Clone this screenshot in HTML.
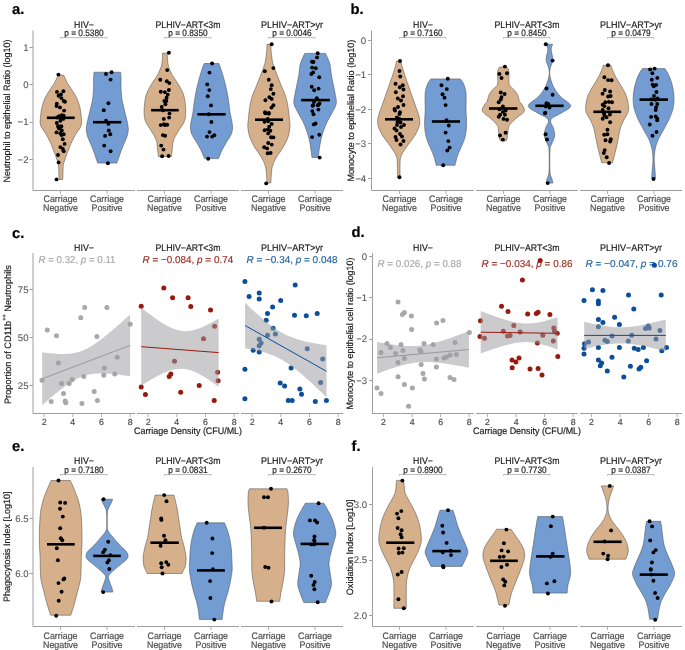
<!DOCTYPE html><html><head><meta charset="utf-8"><style>html,body{margin:0;padding:0;background:#fff;}svg{display:block;will-change:transform;text-rendering:geometricPrecision;} svg{font-family:"Liberation Sans", sans-serif;}</style></head><body>
<svg width="685" height="650" viewBox="0 0 685 650">
<rect width="685" height="650" fill="#fff"/>
<text x="12.0" y="14.3" font-size="14.80" text-anchor="start" fill="#000" stroke="#000" stroke-width="0.18" font-weight="bold">a.</text>
<text x="350.5" y="14.3" font-size="14.80" text-anchor="start" fill="#000" stroke="#000" stroke-width="0.18" font-weight="bold">b.</text>
<text x="12.0" y="237.6" font-size="14.80" text-anchor="start" fill="#000" stroke="#000" stroke-width="0.18" font-weight="bold">c.</text>
<text x="351.5" y="237.2" font-size="14.80" text-anchor="start" fill="#000" stroke="#000" stroke-width="0.18" font-weight="bold">d.</text>
<text x="12.0" y="451.0" font-size="14.80" text-anchor="start" fill="#000" stroke="#000" stroke-width="0.18" font-weight="bold">e.</text>
<text x="351.5" y="450.6" font-size="14.80" text-anchor="start" fill="#000" stroke="#000" stroke-width="0.18" font-weight="bold">f.</text>
<line x1="33.0" y1="30.5" x2="33.0" y2="190.5" stroke="#9E9E9E" stroke-width="1"/>
<line x1="29.5" y1="47.5" x2="33.0" y2="47.5" stroke="#9E9E9E" stroke-width="1"/>
<text x="28.5" y="50.6" font-size="9.60" text-anchor="end" fill="#555" stroke="#555" stroke-width="0.08">1</text>
<line x1="29.5" y1="84.5" x2="33.0" y2="84.5" stroke="#9E9E9E" stroke-width="1"/>
<text x="28.5" y="88.0" font-size="9.60" text-anchor="end" fill="#555" stroke="#555" stroke-width="0.08">0</text>
<line x1="29.5" y1="122.5" x2="33.0" y2="122.5" stroke="#9E9E9E" stroke-width="1"/>
<text x="28.5" y="125.4" font-size="9.60" text-anchor="end" fill="#555" stroke="#555" stroke-width="0.08">−1</text>
<line x1="29.5" y1="159.5" x2="33.0" y2="159.5" stroke="#9E9E9E" stroke-width="1"/>
<text x="28.5" y="162.8" font-size="9.60" text-anchor="end" fill="#555" stroke="#555" stroke-width="0.08">−2</text>
<line x1="33.0" y1="190.5" x2="135.0" y2="190.5" stroke="#9E9E9E" stroke-width="1"/>
<line x1="137.0" y1="190.5" x2="239.0" y2="190.5" stroke="#9E9E9E" stroke-width="1"/>
<line x1="241.0" y1="190.5" x2="343.0" y2="190.5" stroke="#9E9E9E" stroke-width="1"/>
<line x1="60.5" y1="190.5" x2="60.5" y2="194.0" stroke="#9E9E9E" stroke-width="0.8"/>
<line x1="107.0" y1="190.5" x2="107.0" y2="194.0" stroke="#9E9E9E" stroke-width="0.8"/>
<text x="60.5" y="201.8" font-size="9.40" text-anchor="middle" fill="#4D4D4D" stroke="#4D4D4D" stroke-width="0.18" textLength="34.0" lengthAdjust="spacingAndGlyphs">Carriage</text>
<text x="60.5" y="211.3" font-size="9.40" text-anchor="middle" fill="#4D4D4D" stroke="#4D4D4D" stroke-width="0.18" textLength="35.0" lengthAdjust="spacingAndGlyphs">Negative</text>
<text x="107.0" y="201.8" font-size="9.40" text-anchor="middle" fill="#4D4D4D" stroke="#4D4D4D" stroke-width="0.18" textLength="34.0" lengthAdjust="spacingAndGlyphs">Carriage</text>
<text x="107.0" y="211.3" font-size="9.40" text-anchor="middle" fill="#4D4D4D" stroke="#4D4D4D" stroke-width="0.18" textLength="31.0" lengthAdjust="spacingAndGlyphs">Positive</text>
<text x="84.0" y="27.8" font-size="9.60" text-anchor="middle" fill="#1a1a1a" stroke="#1a1a1a" stroke-width="0.18" textLength="19.8" lengthAdjust="spacingAndGlyphs">HIV−</text>
<text x="84.0" y="35.8" font-size="9.20" text-anchor="middle" fill="#1a1a1a" stroke="#1a1a1a" stroke-width="0.18" textLength="39.4" lengthAdjust="spacingAndGlyphs">p = 0.5380</text>
<path d="M60.5,39.0 V37.6 H107.0 V39.0" fill="none" stroke="#A0A0A0" stroke-width="0.7"/>
<line x1="164.5" y1="190.5" x2="164.5" y2="194.0" stroke="#9E9E9E" stroke-width="0.8"/>
<line x1="211.0" y1="190.5" x2="211.0" y2="194.0" stroke="#9E9E9E" stroke-width="0.8"/>
<text x="164.5" y="201.8" font-size="9.40" text-anchor="middle" fill="#4D4D4D" stroke="#4D4D4D" stroke-width="0.18" textLength="34.0" lengthAdjust="spacingAndGlyphs">Carriage</text>
<text x="164.5" y="211.3" font-size="9.40" text-anchor="middle" fill="#4D4D4D" stroke="#4D4D4D" stroke-width="0.18" textLength="35.0" lengthAdjust="spacingAndGlyphs">Negative</text>
<text x="211.0" y="201.8" font-size="9.40" text-anchor="middle" fill="#4D4D4D" stroke="#4D4D4D" stroke-width="0.18" textLength="34.0" lengthAdjust="spacingAndGlyphs">Carriage</text>
<text x="211.0" y="211.3" font-size="9.40" text-anchor="middle" fill="#4D4D4D" stroke="#4D4D4D" stroke-width="0.18" textLength="31.0" lengthAdjust="spacingAndGlyphs">Positive</text>
<text x="188.0" y="27.8" font-size="9.60" text-anchor="middle" fill="#1a1a1a" stroke="#1a1a1a" stroke-width="0.18" textLength="65.0" lengthAdjust="spacingAndGlyphs">PLHIV−ART&lt;3m</text>
<text x="188.0" y="35.8" font-size="9.20" text-anchor="middle" fill="#1a1a1a" stroke="#1a1a1a" stroke-width="0.18" textLength="39.4" lengthAdjust="spacingAndGlyphs">p = 0.8350</text>
<path d="M164.5,39.0 V37.6 H211.0 V39.0" fill="none" stroke="#A0A0A0" stroke-width="0.7"/>
<line x1="268.5" y1="190.5" x2="268.5" y2="194.0" stroke="#9E9E9E" stroke-width="0.8"/>
<line x1="315.0" y1="190.5" x2="315.0" y2="194.0" stroke="#9E9E9E" stroke-width="0.8"/>
<text x="268.5" y="201.8" font-size="9.40" text-anchor="middle" fill="#4D4D4D" stroke="#4D4D4D" stroke-width="0.18" textLength="34.0" lengthAdjust="spacingAndGlyphs">Carriage</text>
<text x="268.5" y="211.3" font-size="9.40" text-anchor="middle" fill="#4D4D4D" stroke="#4D4D4D" stroke-width="0.18" textLength="35.0" lengthAdjust="spacingAndGlyphs">Negative</text>
<text x="315.0" y="201.8" font-size="9.40" text-anchor="middle" fill="#4D4D4D" stroke="#4D4D4D" stroke-width="0.18" textLength="34.0" lengthAdjust="spacingAndGlyphs">Carriage</text>
<text x="315.0" y="211.3" font-size="9.40" text-anchor="middle" fill="#4D4D4D" stroke="#4D4D4D" stroke-width="0.18" textLength="31.0" lengthAdjust="spacingAndGlyphs">Positive</text>
<text x="292.0" y="27.8" font-size="9.60" text-anchor="middle" fill="#1a1a1a" stroke="#1a1a1a" stroke-width="0.18" textLength="62.0" lengthAdjust="spacingAndGlyphs">PLHIV−ART&gt;yr</text>
<text x="292.0" y="35.8" font-size="9.20" text-anchor="middle" fill="#1a1a1a" stroke="#1a1a1a" stroke-width="0.18" textLength="39.4" lengthAdjust="spacingAndGlyphs">p = 0.0046</text>
<path d="M268.5,39.0 V37.6 H315.0 V39.0" fill="none" stroke="#A0A0A0" stroke-width="0.7"/>
<text x="10.2" y="111.1" font-size="9.30" text-anchor="middle" fill="#1a1a1a" stroke="#1a1a1a" stroke-width="0.18" textLength="143.0" lengthAdjust="spacingAndGlyphs" transform="rotate(-90 10.2 111.1)">Neutrophil to epithelial Ratio (log10)</text>
<line x1="371.5" y1="30.5" x2="371.5" y2="190.5" stroke="#9E9E9E" stroke-width="1"/>
<line x1="368.0" y1="40.5" x2="371.5" y2="40.5" stroke="#9E9E9E" stroke-width="1"/>
<text x="366.1" y="43.8" font-size="9.60" text-anchor="end" fill="#555" stroke="#555" stroke-width="0.08">0</text>
<line x1="368.0" y1="74.5" x2="371.5" y2="74.5" stroke="#9E9E9E" stroke-width="1"/>
<text x="366.1" y="78.3" font-size="9.60" text-anchor="end" fill="#555" stroke="#555" stroke-width="0.08">−1</text>
<line x1="368.0" y1="109.5" x2="371.5" y2="109.5" stroke="#9E9E9E" stroke-width="1"/>
<text x="366.1" y="112.8" font-size="9.60" text-anchor="end" fill="#555" stroke="#555" stroke-width="0.08">−2</text>
<line x1="368.0" y1="143.5" x2="371.5" y2="143.5" stroke="#9E9E9E" stroke-width="1"/>
<text x="366.1" y="147.3" font-size="9.60" text-anchor="end" fill="#555" stroke="#555" stroke-width="0.08">−3</text>
<line x1="368.0" y1="178.5" x2="371.5" y2="178.5" stroke="#9E9E9E" stroke-width="1"/>
<text x="366.1" y="181.8" font-size="9.60" text-anchor="end" fill="#555" stroke="#555" stroke-width="0.08">−4</text>
<line x1="372.0" y1="190.5" x2="474.0" y2="190.5" stroke="#9E9E9E" stroke-width="1"/>
<line x1="476.0" y1="190.5" x2="578.0" y2="190.5" stroke="#9E9E9E" stroke-width="1"/>
<line x1="580.0" y1="190.5" x2="682.0" y2="190.5" stroke="#9E9E9E" stroke-width="1"/>
<line x1="399.5" y1="190.5" x2="399.5" y2="194.0" stroke="#9E9E9E" stroke-width="0.8"/>
<line x1="446.0" y1="190.5" x2="446.0" y2="194.0" stroke="#9E9E9E" stroke-width="0.8"/>
<text x="399.5" y="201.8" font-size="9.40" text-anchor="middle" fill="#4D4D4D" stroke="#4D4D4D" stroke-width="0.18" textLength="34.0" lengthAdjust="spacingAndGlyphs">Carriage</text>
<text x="399.5" y="211.3" font-size="9.40" text-anchor="middle" fill="#4D4D4D" stroke="#4D4D4D" stroke-width="0.18" textLength="35.0" lengthAdjust="spacingAndGlyphs">Negative</text>
<text x="446.0" y="201.8" font-size="9.40" text-anchor="middle" fill="#4D4D4D" stroke="#4D4D4D" stroke-width="0.18" textLength="34.0" lengthAdjust="spacingAndGlyphs">Carriage</text>
<text x="446.0" y="211.3" font-size="9.40" text-anchor="middle" fill="#4D4D4D" stroke="#4D4D4D" stroke-width="0.18" textLength="31.0" lengthAdjust="spacingAndGlyphs">Positive</text>
<text x="423.0" y="27.8" font-size="9.60" text-anchor="middle" fill="#1a1a1a" stroke="#1a1a1a" stroke-width="0.18" textLength="19.8" lengthAdjust="spacingAndGlyphs">HIV−</text>
<text x="423.0" y="35.8" font-size="9.20" text-anchor="middle" fill="#1a1a1a" stroke="#1a1a1a" stroke-width="0.18" textLength="39.4" lengthAdjust="spacingAndGlyphs">p = 0.7160</text>
<path d="M399.5,39.0 V37.6 H446.0 V39.0" fill="none" stroke="#A0A0A0" stroke-width="0.7"/>
<line x1="503.5" y1="190.5" x2="503.5" y2="194.0" stroke="#9E9E9E" stroke-width="0.8"/>
<line x1="550.0" y1="190.5" x2="550.0" y2="194.0" stroke="#9E9E9E" stroke-width="0.8"/>
<text x="503.5" y="201.8" font-size="9.40" text-anchor="middle" fill="#4D4D4D" stroke="#4D4D4D" stroke-width="0.18" textLength="34.0" lengthAdjust="spacingAndGlyphs">Carriage</text>
<text x="503.5" y="211.3" font-size="9.40" text-anchor="middle" fill="#4D4D4D" stroke="#4D4D4D" stroke-width="0.18" textLength="35.0" lengthAdjust="spacingAndGlyphs">Negative</text>
<text x="550.0" y="201.8" font-size="9.40" text-anchor="middle" fill="#4D4D4D" stroke="#4D4D4D" stroke-width="0.18" textLength="34.0" lengthAdjust="spacingAndGlyphs">Carriage</text>
<text x="550.0" y="211.3" font-size="9.40" text-anchor="middle" fill="#4D4D4D" stroke="#4D4D4D" stroke-width="0.18" textLength="31.0" lengthAdjust="spacingAndGlyphs">Positive</text>
<text x="527.0" y="27.8" font-size="9.60" text-anchor="middle" fill="#1a1a1a" stroke="#1a1a1a" stroke-width="0.18" textLength="65.0" lengthAdjust="spacingAndGlyphs">PLHIV−ART&lt;3m</text>
<text x="527.0" y="35.8" font-size="9.20" text-anchor="middle" fill="#1a1a1a" stroke="#1a1a1a" stroke-width="0.18" textLength="39.4" lengthAdjust="spacingAndGlyphs">p = 0.8450</text>
<path d="M503.5,39.0 V37.6 H550.0 V39.0" fill="none" stroke="#A0A0A0" stroke-width="0.7"/>
<line x1="607.5" y1="190.5" x2="607.5" y2="194.0" stroke="#9E9E9E" stroke-width="0.8"/>
<line x1="654.0" y1="190.5" x2="654.0" y2="194.0" stroke="#9E9E9E" stroke-width="0.8"/>
<text x="607.5" y="201.8" font-size="9.40" text-anchor="middle" fill="#4D4D4D" stroke="#4D4D4D" stroke-width="0.18" textLength="34.0" lengthAdjust="spacingAndGlyphs">Carriage</text>
<text x="607.5" y="211.3" font-size="9.40" text-anchor="middle" fill="#4D4D4D" stroke="#4D4D4D" stroke-width="0.18" textLength="35.0" lengthAdjust="spacingAndGlyphs">Negative</text>
<text x="654.0" y="201.8" font-size="9.40" text-anchor="middle" fill="#4D4D4D" stroke="#4D4D4D" stroke-width="0.18" textLength="34.0" lengthAdjust="spacingAndGlyphs">Carriage</text>
<text x="654.0" y="211.3" font-size="9.40" text-anchor="middle" fill="#4D4D4D" stroke="#4D4D4D" stroke-width="0.18" textLength="31.0" lengthAdjust="spacingAndGlyphs">Positive</text>
<text x="631.0" y="27.8" font-size="9.60" text-anchor="middle" fill="#1a1a1a" stroke="#1a1a1a" stroke-width="0.18" textLength="62.0" lengthAdjust="spacingAndGlyphs">PLHIV−ART&gt;yr</text>
<text x="631.0" y="35.8" font-size="9.20" text-anchor="middle" fill="#1a1a1a" stroke="#1a1a1a" stroke-width="0.18" textLength="39.4" lengthAdjust="spacingAndGlyphs">p = 0.0479</text>
<path d="M607.5,39.0 V37.6 H654.0 V39.0" fill="none" stroke="#A0A0A0" stroke-width="0.7"/>
<text x="354.0" y="110.6" font-size="9.30" text-anchor="middle" fill="#1a1a1a" stroke="#1a1a1a" stroke-width="0.18" textLength="141.8" lengthAdjust="spacingAndGlyphs" transform="rotate(-90 354.0 110.6)">Monocyte to epithelial Ratio (log10)</text>
<line x1="33.0" y1="467.0" x2="33.0" y2="626.5" stroke="#9E9E9E" stroke-width="1"/>
<line x1="29.5" y1="573.5" x2="33.0" y2="573.5" stroke="#9E9E9E" stroke-width="1"/>
<text x="28.5" y="576.9" font-size="9.60" text-anchor="end" fill="#555" stroke="#555" stroke-width="0.08">6.0</text>
<line x1="29.5" y1="518.5" x2="33.0" y2="518.5" stroke="#9E9E9E" stroke-width="1"/>
<text x="28.5" y="521.8" font-size="9.60" text-anchor="end" fill="#555" stroke="#555" stroke-width="0.08">6.5</text>
<line x1="33.0" y1="626.5" x2="135.0" y2="626.5" stroke="#9E9E9E" stroke-width="1"/>
<line x1="137.0" y1="626.5" x2="239.0" y2="626.5" stroke="#9E9E9E" stroke-width="1"/>
<line x1="241.0" y1="626.5" x2="343.0" y2="626.5" stroke="#9E9E9E" stroke-width="1"/>
<line x1="60.5" y1="626.5" x2="60.5" y2="630.0" stroke="#9E9E9E" stroke-width="0.8"/>
<line x1="107.0" y1="626.5" x2="107.0" y2="630.0" stroke="#9E9E9E" stroke-width="0.8"/>
<text x="60.5" y="638.5" font-size="9.40" text-anchor="middle" fill="#4D4D4D" stroke="#4D4D4D" stroke-width="0.18" textLength="34.0" lengthAdjust="spacingAndGlyphs">Carriage</text>
<text x="60.5" y="647.8" font-size="9.40" text-anchor="middle" fill="#4D4D4D" stroke="#4D4D4D" stroke-width="0.18" textLength="35.0" lengthAdjust="spacingAndGlyphs">Negative</text>
<text x="107.0" y="638.5" font-size="9.40" text-anchor="middle" fill="#4D4D4D" stroke="#4D4D4D" stroke-width="0.18" textLength="34.0" lengthAdjust="spacingAndGlyphs">Carriage</text>
<text x="107.0" y="647.8" font-size="9.40" text-anchor="middle" fill="#4D4D4D" stroke="#4D4D4D" stroke-width="0.18" textLength="31.0" lengthAdjust="spacingAndGlyphs">Positive</text>
<text x="84.0" y="464.2" font-size="9.60" text-anchor="middle" fill="#1a1a1a" stroke="#1a1a1a" stroke-width="0.18" textLength="19.8" lengthAdjust="spacingAndGlyphs">HIV−</text>
<text x="84.0" y="473.0" font-size="9.20" text-anchor="middle" fill="#1a1a1a" stroke="#1a1a1a" stroke-width="0.18" textLength="39.4" lengthAdjust="spacingAndGlyphs">p = 0.7180</text>
<path d="M60.5,475.9 V474.5 H107.0 V475.9" fill="none" stroke="#A0A0A0" stroke-width="0.7"/>
<line x1="164.5" y1="626.5" x2="164.5" y2="630.0" stroke="#9E9E9E" stroke-width="0.8"/>
<line x1="211.0" y1="626.5" x2="211.0" y2="630.0" stroke="#9E9E9E" stroke-width="0.8"/>
<text x="164.5" y="638.5" font-size="9.40" text-anchor="middle" fill="#4D4D4D" stroke="#4D4D4D" stroke-width="0.18" textLength="34.0" lengthAdjust="spacingAndGlyphs">Carriage</text>
<text x="164.5" y="647.8" font-size="9.40" text-anchor="middle" fill="#4D4D4D" stroke="#4D4D4D" stroke-width="0.18" textLength="35.0" lengthAdjust="spacingAndGlyphs">Negative</text>
<text x="211.0" y="638.5" font-size="9.40" text-anchor="middle" fill="#4D4D4D" stroke="#4D4D4D" stroke-width="0.18" textLength="34.0" lengthAdjust="spacingAndGlyphs">Carriage</text>
<text x="211.0" y="647.8" font-size="9.40" text-anchor="middle" fill="#4D4D4D" stroke="#4D4D4D" stroke-width="0.18" textLength="31.0" lengthAdjust="spacingAndGlyphs">Positive</text>
<text x="188.0" y="464.2" font-size="9.60" text-anchor="middle" fill="#1a1a1a" stroke="#1a1a1a" stroke-width="0.18" textLength="65.0" lengthAdjust="spacingAndGlyphs">PLHIV−ART&lt;3m</text>
<text x="188.0" y="473.0" font-size="9.20" text-anchor="middle" fill="#1a1a1a" stroke="#1a1a1a" stroke-width="0.18" textLength="39.4" lengthAdjust="spacingAndGlyphs">p = 0.0831</text>
<path d="M164.5,475.9 V474.5 H211.0 V475.9" fill="none" stroke="#A0A0A0" stroke-width="0.7"/>
<line x1="268.5" y1="626.5" x2="268.5" y2="630.0" stroke="#9E9E9E" stroke-width="0.8"/>
<line x1="315.0" y1="626.5" x2="315.0" y2="630.0" stroke="#9E9E9E" stroke-width="0.8"/>
<text x="268.5" y="638.5" font-size="9.40" text-anchor="middle" fill="#4D4D4D" stroke="#4D4D4D" stroke-width="0.18" textLength="34.0" lengthAdjust="spacingAndGlyphs">Carriage</text>
<text x="268.5" y="647.8" font-size="9.40" text-anchor="middle" fill="#4D4D4D" stroke="#4D4D4D" stroke-width="0.18" textLength="35.0" lengthAdjust="spacingAndGlyphs">Negative</text>
<text x="315.0" y="638.5" font-size="9.40" text-anchor="middle" fill="#4D4D4D" stroke="#4D4D4D" stroke-width="0.18" textLength="34.0" lengthAdjust="spacingAndGlyphs">Carriage</text>
<text x="315.0" y="647.8" font-size="9.40" text-anchor="middle" fill="#4D4D4D" stroke="#4D4D4D" stroke-width="0.18" textLength="31.0" lengthAdjust="spacingAndGlyphs">Positive</text>
<text x="292.0" y="464.2" font-size="9.60" text-anchor="middle" fill="#1a1a1a" stroke="#1a1a1a" stroke-width="0.18" textLength="62.0" lengthAdjust="spacingAndGlyphs">PLHIV−ART&gt;yr</text>
<text x="292.0" y="473.0" font-size="9.20" text-anchor="middle" fill="#1a1a1a" stroke="#1a1a1a" stroke-width="0.18" textLength="39.4" lengthAdjust="spacingAndGlyphs">p = 0.2670</text>
<path d="M268.5,475.9 V474.5 H315.0 V475.9" fill="none" stroke="#A0A0A0" stroke-width="0.7"/>
<text x="10.0" y="546.8" font-size="9.30" text-anchor="middle" fill="#1a1a1a" stroke="#1a1a1a" stroke-width="0.18" textLength="110.4" lengthAdjust="spacingAndGlyphs" transform="rotate(-90 10.0 546.8)">Phagocytosis Index [Log10]</text>
<line x1="372.5" y1="467.0" x2="372.5" y2="626.5" stroke="#9E9E9E" stroke-width="1"/>
<line x1="369.0" y1="615.5" x2="372.5" y2="615.5" stroke="#9E9E9E" stroke-width="1"/>
<text x="367.1" y="619.2" font-size="9.60" text-anchor="end" fill="#555" stroke="#555" stroke-width="0.08">2.0</text>
<line x1="369.0" y1="560.5" x2="372.5" y2="560.5" stroke="#9E9E9E" stroke-width="1"/>
<text x="367.1" y="563.4" font-size="9.60" text-anchor="end" fill="#555" stroke="#555" stroke-width="0.08">2.5</text>
<line x1="369.0" y1="504.5" x2="372.5" y2="504.5" stroke="#9E9E9E" stroke-width="1"/>
<text x="367.1" y="507.6" font-size="9.60" text-anchor="end" fill="#555" stroke="#555" stroke-width="0.08">3.0</text>
<line x1="372.0" y1="626.5" x2="474.0" y2="626.5" stroke="#9E9E9E" stroke-width="1"/>
<line x1="476.0" y1="626.5" x2="578.0" y2="626.5" stroke="#9E9E9E" stroke-width="1"/>
<line x1="580.0" y1="626.5" x2="682.0" y2="626.5" stroke="#9E9E9E" stroke-width="1"/>
<line x1="399.5" y1="626.5" x2="399.5" y2="630.0" stroke="#9E9E9E" stroke-width="0.8"/>
<line x1="446.0" y1="626.5" x2="446.0" y2="630.0" stroke="#9E9E9E" stroke-width="0.8"/>
<text x="399.5" y="638.5" font-size="9.40" text-anchor="middle" fill="#4D4D4D" stroke="#4D4D4D" stroke-width="0.18" textLength="34.0" lengthAdjust="spacingAndGlyphs">Carriage</text>
<text x="399.5" y="647.8" font-size="9.40" text-anchor="middle" fill="#4D4D4D" stroke="#4D4D4D" stroke-width="0.18" textLength="35.0" lengthAdjust="spacingAndGlyphs">Negative</text>
<text x="446.0" y="638.5" font-size="9.40" text-anchor="middle" fill="#4D4D4D" stroke="#4D4D4D" stroke-width="0.18" textLength="34.0" lengthAdjust="spacingAndGlyphs">Carriage</text>
<text x="446.0" y="647.8" font-size="9.40" text-anchor="middle" fill="#4D4D4D" stroke="#4D4D4D" stroke-width="0.18" textLength="31.0" lengthAdjust="spacingAndGlyphs">Positive</text>
<text x="423.0" y="464.2" font-size="9.60" text-anchor="middle" fill="#1a1a1a" stroke="#1a1a1a" stroke-width="0.18" textLength="19.8" lengthAdjust="spacingAndGlyphs">HIV−</text>
<text x="423.0" y="473.0" font-size="9.20" text-anchor="middle" fill="#1a1a1a" stroke="#1a1a1a" stroke-width="0.18" textLength="39.4" lengthAdjust="spacingAndGlyphs">p = 0.8900</text>
<path d="M399.5,475.9 V474.5 H446.0 V475.9" fill="none" stroke="#A0A0A0" stroke-width="0.7"/>
<line x1="503.5" y1="626.5" x2="503.5" y2="630.0" stroke="#9E9E9E" stroke-width="0.8"/>
<line x1="550.0" y1="626.5" x2="550.0" y2="630.0" stroke="#9E9E9E" stroke-width="0.8"/>
<text x="503.5" y="638.5" font-size="9.40" text-anchor="middle" fill="#4D4D4D" stroke="#4D4D4D" stroke-width="0.18" textLength="34.0" lengthAdjust="spacingAndGlyphs">Carriage</text>
<text x="503.5" y="647.8" font-size="9.40" text-anchor="middle" fill="#4D4D4D" stroke="#4D4D4D" stroke-width="0.18" textLength="35.0" lengthAdjust="spacingAndGlyphs">Negative</text>
<text x="550.0" y="638.5" font-size="9.40" text-anchor="middle" fill="#4D4D4D" stroke="#4D4D4D" stroke-width="0.18" textLength="34.0" lengthAdjust="spacingAndGlyphs">Carriage</text>
<text x="550.0" y="647.8" font-size="9.40" text-anchor="middle" fill="#4D4D4D" stroke="#4D4D4D" stroke-width="0.18" textLength="31.0" lengthAdjust="spacingAndGlyphs">Positive</text>
<text x="527.0" y="464.2" font-size="9.60" text-anchor="middle" fill="#1a1a1a" stroke="#1a1a1a" stroke-width="0.18" textLength="65.0" lengthAdjust="spacingAndGlyphs">PLHIV−ART&lt;3m</text>
<text x="527.0" y="473.0" font-size="9.20" text-anchor="middle" fill="#1a1a1a" stroke="#1a1a1a" stroke-width="0.18" textLength="39.4" lengthAdjust="spacingAndGlyphs">p = 0.7730</text>
<path d="M503.5,475.9 V474.5 H550.0 V475.9" fill="none" stroke="#A0A0A0" stroke-width="0.7"/>
<line x1="607.5" y1="626.5" x2="607.5" y2="630.0" stroke="#9E9E9E" stroke-width="0.8"/>
<line x1="654.0" y1="626.5" x2="654.0" y2="630.0" stroke="#9E9E9E" stroke-width="0.8"/>
<text x="607.5" y="638.5" font-size="9.40" text-anchor="middle" fill="#4D4D4D" stroke="#4D4D4D" stroke-width="0.18" textLength="34.0" lengthAdjust="spacingAndGlyphs">Carriage</text>
<text x="607.5" y="647.8" font-size="9.40" text-anchor="middle" fill="#4D4D4D" stroke="#4D4D4D" stroke-width="0.18" textLength="35.0" lengthAdjust="spacingAndGlyphs">Negative</text>
<text x="654.0" y="638.5" font-size="9.40" text-anchor="middle" fill="#4D4D4D" stroke="#4D4D4D" stroke-width="0.18" textLength="34.0" lengthAdjust="spacingAndGlyphs">Carriage</text>
<text x="654.0" y="647.8" font-size="9.40" text-anchor="middle" fill="#4D4D4D" stroke="#4D4D4D" stroke-width="0.18" textLength="31.0" lengthAdjust="spacingAndGlyphs">Positive</text>
<text x="631.0" y="464.2" font-size="9.60" text-anchor="middle" fill="#1a1a1a" stroke="#1a1a1a" stroke-width="0.18" textLength="62.0" lengthAdjust="spacingAndGlyphs">PLHIV−ART&gt;yr</text>
<text x="631.0" y="473.0" font-size="9.20" text-anchor="middle" fill="#1a1a1a" stroke="#1a1a1a" stroke-width="0.18" textLength="39.4" lengthAdjust="spacingAndGlyphs">p = 0.0387</text>
<path d="M607.5,475.9 V474.5 H654.0 V475.9" fill="none" stroke="#A0A0A0" stroke-width="0.7"/>
<text x="352.6" y="547.3" font-size="9.30" text-anchor="middle" fill="#1a1a1a" stroke="#1a1a1a" stroke-width="0.18" textLength="95.8" lengthAdjust="spacingAndGlyphs" transform="rotate(-90 352.6 547.3)">Oxidation Index [Log10]</text>
<path d="M63.70,75.10 C64.00,75.78 64.82,77.75 65.50,79.20 C66.18,80.65 66.88,82.25 67.80,83.80 C68.72,85.35 69.53,86.18 71.00,88.50 C72.47,90.82 75.13,94.63 76.60,97.70 C78.07,100.77 79.03,103.83 79.80,106.90 C80.57,109.97 80.97,113.02 81.20,116.10 C81.43,119.18 82.12,122.38 81.20,125.40 C80.28,128.42 77.40,131.18 75.70,134.20 C74.00,137.22 72.38,140.42 71.00,143.50 C69.62,146.58 68.55,149.63 67.40,152.70 C66.25,155.77 64.80,159.60 64.10,161.90 C63.40,164.20 63.42,163.58 63.20,166.50 C62.98,169.42 62.87,177.25 62.80,179.40 L59.00,179.40 C58.93,177.25 58.82,169.42 58.60,166.50 C58.38,163.58 58.40,164.20 57.70,161.90 C57.00,159.60 55.55,155.77 54.40,152.70 C53.25,149.63 52.18,146.58 50.80,143.50 C49.42,140.42 47.80,137.22 46.10,134.20 C44.40,131.18 41.52,128.42 40.60,125.40 C39.68,122.38 40.37,119.18 40.60,116.10 C40.83,113.02 41.23,109.97 42.00,106.90 C42.77,103.83 43.73,100.77 45.20,97.70 C46.67,94.63 49.33,90.82 50.80,88.50 C52.27,86.18 53.08,85.35 54.00,83.80 C54.92,82.25 55.62,80.65 56.30,79.20 C56.98,77.75 57.80,75.78 58.10,75.10 Z" fill="#D5B08A" stroke="#444" stroke-width="0.5"/>
<circle cx="58.4" cy="74.6" r="1.95" fill="#000"/>
<circle cx="57.0" cy="91.9" r="1.95" fill="#000"/>
<circle cx="63.4" cy="91.2" r="1.95" fill="#000"/>
<circle cx="58.6" cy="95.8" r="1.95" fill="#000"/>
<circle cx="60.9" cy="94.4" r="1.95" fill="#000"/>
<circle cx="61.4" cy="98.1" r="1.95" fill="#000"/>
<circle cx="63.7" cy="100.9" r="1.95" fill="#000"/>
<circle cx="65.0" cy="101.8" r="1.95" fill="#000"/>
<circle cx="56.8" cy="103.7" r="1.95" fill="#000"/>
<circle cx="56.5" cy="106.0" r="1.95" fill="#000"/>
<circle cx="60.0" cy="107.4" r="1.95" fill="#000"/>
<circle cx="64.1" cy="110.6" r="1.95" fill="#000"/>
<circle cx="61.8" cy="115.2" r="1.95" fill="#000"/>
<circle cx="59.1" cy="116.1" r="1.95" fill="#000"/>
<circle cx="63.7" cy="115.7" r="1.95" fill="#000"/>
<circle cx="60.4" cy="118.0" r="1.95" fill="#000"/>
<circle cx="63.2" cy="118.9" r="1.95" fill="#000"/>
<circle cx="57.2" cy="117.5" r="1.95" fill="#000"/>
<circle cx="60.4" cy="120.7" r="1.95" fill="#000"/>
<circle cx="56.8" cy="123.0" r="1.95" fill="#000"/>
<circle cx="58.1" cy="126.3" r="1.95" fill="#000"/>
<circle cx="61.4" cy="126.3" r="1.95" fill="#000"/>
<circle cx="59.1" cy="128.6" r="1.95" fill="#000"/>
<circle cx="58.6" cy="127.8" r="1.95" fill="#000"/>
<circle cx="60.9" cy="126.8" r="1.95" fill="#000"/>
<circle cx="61.8" cy="130.5" r="1.95" fill="#000"/>
<circle cx="56.5" cy="132.4" r="1.95" fill="#000"/>
<circle cx="60.4" cy="133.3" r="1.95" fill="#000"/>
<circle cx="63.7" cy="134.2" r="1.95" fill="#000"/>
<circle cx="61.4" cy="135.1" r="1.95" fill="#000"/>
<circle cx="62.8" cy="139.3" r="1.95" fill="#000"/>
<circle cx="64.6" cy="143.9" r="1.95" fill="#000"/>
<circle cx="60.4" cy="147.1" r="1.95" fill="#000"/>
<circle cx="62.8" cy="149.0" r="1.95" fill="#000"/>
<circle cx="63.7" cy="151.3" r="1.95" fill="#000"/>
<circle cx="58.0" cy="155.0" r="1.95" fill="#000"/>
<circle cx="58.6" cy="162.4" r="1.95" fill="#000"/>
<circle cx="56.5" cy="179.4" r="1.95" fill="#000"/>
<line x1="46.9" y1="117.8" x2="74.7" y2="117.8" stroke="#000" stroke-width="2.6"/>
<path d="M120.60,72.20 C120.68,73.42 121.03,77.00 121.10,79.50 C121.17,82.00 120.87,83.98 121.00,87.20 C121.13,90.42 121.47,95.58 121.90,98.80 C122.33,102.02 122.98,103.80 123.60,106.50 C124.22,109.20 124.95,112.30 125.60,115.00 C126.25,117.70 127.05,120.13 127.50,122.70 C127.95,125.27 128.47,127.83 128.30,130.40 C128.13,132.97 127.37,135.53 126.50,138.10 C125.63,140.67 124.15,143.23 123.10,145.80 C122.05,148.37 121.23,150.62 120.20,153.50 C119.17,156.38 117.45,161.50 116.90,163.10 L97.70,163.10 C97.15,161.50 95.43,156.38 94.40,153.50 C93.37,150.62 92.55,148.37 91.50,145.80 C90.45,143.23 88.97,140.67 88.10,138.10 C87.23,135.53 86.47,132.97 86.30,130.40 C86.13,127.83 86.65,125.27 87.10,122.70 C87.55,120.13 88.35,117.70 89.00,115.00 C89.65,112.30 90.38,109.20 91.00,106.50 C91.62,103.80 92.27,102.02 92.70,98.80 C93.13,95.58 93.47,90.42 93.60,87.20 C93.73,83.98 93.43,82.00 93.50,79.50 C93.57,77.00 93.92,73.42 94.00,72.20 Z" fill="#739DD2" stroke="#444" stroke-width="0.5"/>
<circle cx="106.0" cy="74.0" r="1.95" fill="#000"/>
<circle cx="111.6" cy="72.2" r="1.95" fill="#000"/>
<circle cx="110.6" cy="79.6" r="1.95" fill="#000"/>
<circle cx="108.4" cy="103.2" r="1.95" fill="#000"/>
<circle cx="103.8" cy="110.2" r="1.95" fill="#000"/>
<circle cx="106.0" cy="120.7" r="1.95" fill="#000"/>
<circle cx="108.4" cy="123.9" r="1.95" fill="#000"/>
<circle cx="108.8" cy="130.5" r="1.95" fill="#000"/>
<circle cx="105.1" cy="135.9" r="1.95" fill="#000"/>
<circle cx="110.3" cy="134.2" r="1.95" fill="#000"/>
<circle cx="104.2" cy="145.6" r="1.95" fill="#000"/>
<circle cx="110.6" cy="151.2" r="1.95" fill="#000"/>
<circle cx="107.9" cy="163.2" r="1.95" fill="#000"/>
<line x1="93.0" y1="122.2" x2="121.3" y2="122.2" stroke="#000" stroke-width="2.6"/>
<path d="M167.20,53.10 C167.23,53.78 167.32,55.75 167.40,57.20 C167.48,58.65 167.50,60.25 167.70,61.80 C167.90,63.35 168.15,64.95 168.60,66.50 C169.05,68.05 169.72,69.57 170.40,71.10 C171.08,72.63 171.32,73.40 172.70,75.70 C174.08,78.00 176.92,81.83 178.70,84.90 C180.48,87.97 182.32,91.02 183.40,94.10 C184.48,97.18 184.82,100.38 185.20,103.40 C185.58,106.42 185.85,109.18 185.70,112.20 C185.55,115.22 185.47,118.42 184.30,121.50 C183.13,124.58 180.48,127.63 178.70,130.70 C176.92,133.77 174.67,136.83 173.60,139.90 C172.53,142.97 172.67,146.33 172.30,149.10 C171.93,151.87 171.55,155.27 171.40,156.50 L158.40,156.50 C158.25,155.27 157.87,151.87 157.50,149.10 C157.13,146.33 157.27,142.97 156.20,139.90 C155.13,136.83 152.88,133.77 151.10,130.70 C149.32,127.63 146.67,124.58 145.50,121.50 C144.33,118.42 144.25,115.22 144.10,112.20 C143.95,109.18 144.22,106.42 144.60,103.40 C144.98,100.38 145.32,97.18 146.40,94.10 C147.48,91.02 149.32,87.97 151.10,84.90 C152.88,81.83 155.72,78.00 157.10,75.70 C158.48,73.40 158.72,72.63 159.40,71.10 C160.08,69.57 160.75,68.05 161.20,66.50 C161.65,64.95 161.90,63.35 162.10,61.80 C162.30,60.25 162.32,58.65 162.40,57.20 C162.48,55.75 162.57,53.78 162.60,53.10 Z" fill="#D5B08A" stroke="#444" stroke-width="0.5"/>
<circle cx="168.9" cy="52.8" r="1.95" fill="#000"/>
<circle cx="167.2" cy="70.1" r="1.95" fill="#000"/>
<circle cx="160.3" cy="79.8" r="1.95" fill="#000"/>
<circle cx="166.8" cy="81.2" r="1.95" fill="#000"/>
<circle cx="169.3" cy="83.1" r="1.95" fill="#000"/>
<circle cx="168.9" cy="90.0" r="1.95" fill="#000"/>
<circle cx="160.8" cy="91.8" r="1.95" fill="#000"/>
<circle cx="164.9" cy="92.1" r="1.95" fill="#000"/>
<circle cx="167.7" cy="94.6" r="1.95" fill="#000"/>
<circle cx="166.6" cy="97.8" r="1.95" fill="#000"/>
<circle cx="164.4" cy="101.0" r="1.95" fill="#000"/>
<circle cx="166.3" cy="101.0" r="1.95" fill="#000"/>
<circle cx="165.4" cy="104.3" r="1.95" fill="#000"/>
<circle cx="161.7" cy="107.0" r="1.95" fill="#000"/>
<circle cx="163.1" cy="110.4" r="1.95" fill="#000"/>
<circle cx="169.5" cy="113.6" r="1.95" fill="#000"/>
<circle cx="169.1" cy="117.6" r="1.95" fill="#000"/>
<circle cx="163.8" cy="118.9" r="1.95" fill="#000"/>
<circle cx="160.8" cy="125.1" r="1.95" fill="#000"/>
<circle cx="164.0" cy="124.2" r="1.95" fill="#000"/>
<circle cx="167.2" cy="124.7" r="1.95" fill="#000"/>
<circle cx="164.9" cy="125.1" r="1.95" fill="#000"/>
<circle cx="162.9" cy="135.1" r="1.95" fill="#000"/>
<circle cx="165.1" cy="135.7" r="1.95" fill="#000"/>
<circle cx="161.2" cy="145.6" r="1.95" fill="#000"/>
<circle cx="163.5" cy="149.6" r="1.95" fill="#000"/>
<circle cx="162.1" cy="156.3" r="1.95" fill="#000"/>
<circle cx="168.6" cy="156.0" r="1.95" fill="#000"/>
<line x1="151.1" y1="110.2" x2="178.7" y2="110.2" stroke="#000" stroke-width="2.6"/>
<path d="M218.90,63.50 C219.33,64.70 220.65,68.08 221.50,70.70 C222.35,73.32 223.23,76.38 224.00,79.20 C224.77,82.02 225.47,84.78 226.10,87.60 C226.73,90.42 227.30,93.28 227.80,96.10 C228.30,98.92 228.73,101.83 229.10,104.50 C229.47,107.17 229.70,110.10 230.00,112.10 C230.30,114.10 230.50,114.37 230.90,116.50 C231.30,118.63 232.13,122.78 232.40,124.90 C232.67,127.02 232.75,127.50 232.50,129.20 C232.25,130.90 231.87,133.00 230.90,135.10 C229.93,137.20 228.18,139.27 226.70,141.80 C225.22,144.33 223.37,147.50 222.00,150.30 C220.63,153.10 219.08,157.22 218.50,158.60 L204.50,158.60 C203.92,157.22 202.37,153.10 201.00,150.30 C199.63,147.50 197.78,144.33 196.30,141.80 C194.82,139.27 193.07,137.20 192.10,135.10 C191.13,133.00 190.75,130.90 190.50,129.20 C190.25,127.50 190.33,127.02 190.60,124.90 C190.87,122.78 191.70,118.63 192.10,116.50 C192.50,114.37 192.70,114.10 193.00,112.10 C193.30,110.10 193.53,107.17 193.90,104.50 C194.27,101.83 194.70,98.92 195.20,96.10 C195.70,93.28 196.27,90.42 196.90,87.60 C197.53,84.78 198.23,82.02 199.00,79.20 C199.77,76.38 200.65,73.32 201.50,70.70 C202.35,68.08 203.67,64.70 204.10,63.50 Z" fill="#739DD2" stroke="#444" stroke-width="0.5"/>
<circle cx="212.1" cy="63.5" r="1.95" fill="#000"/>
<circle cx="209.5" cy="72.6" r="1.95" fill="#000"/>
<circle cx="207.2" cy="84.4" r="1.95" fill="#000"/>
<circle cx="209.3" cy="90.1" r="1.95" fill="#000"/>
<circle cx="207.8" cy="96.2" r="1.95" fill="#000"/>
<circle cx="211.0" cy="105.4" r="1.95" fill="#000"/>
<circle cx="208.7" cy="114.3" r="1.95" fill="#000"/>
<circle cx="211.4" cy="122.0" r="1.95" fill="#000"/>
<circle cx="209.5" cy="132.1" r="1.95" fill="#000"/>
<circle cx="207.0" cy="136.6" r="1.95" fill="#000"/>
<circle cx="212.2" cy="136.6" r="1.95" fill="#000"/>
<circle cx="214.3" cy="135.2" r="1.95" fill="#000"/>
<circle cx="208.2" cy="158.8" r="1.95" fill="#000"/>
<line x1="197.4" y1="114.3" x2="225.6" y2="114.3" stroke="#000" stroke-width="2.6"/>
<path d="M270.75,44.30 C270.82,45.50 270.86,48.37 271.20,51.50 C271.54,54.63 271.85,59.25 272.80,63.10 C273.75,66.95 275.45,70.75 276.90,74.60 C278.35,78.45 279.97,82.35 281.50,86.20 C283.03,90.05 284.95,93.85 286.10,97.70 C287.25,101.55 287.87,105.95 288.40,109.30 C288.93,112.65 289.03,115.18 289.30,117.80 C289.57,120.42 289.94,122.97 290.00,125.00 C290.06,127.03 289.88,128.33 289.65,130.00 C289.42,131.67 289.11,133.33 288.65,135.00 C288.19,136.67 287.61,138.33 286.90,140.00 C286.19,141.67 285.32,143.33 284.40,145.00 C283.48,146.67 282.48,148.33 281.40,150.00 C280.32,151.67 278.98,153.33 277.90,155.00 C276.82,156.67 275.75,158.33 274.90,160.00 C274.05,161.67 273.33,163.33 272.80,165.00 C272.27,166.67 272.03,167.00 271.70,170.00 C271.37,173.00 270.95,180.83 270.80,183.00 L267.00,183.00 C266.85,180.83 266.43,173.00 266.10,170.00 C265.77,167.00 265.53,166.67 265.00,165.00 C264.47,163.33 263.75,161.67 262.90,160.00 C262.05,158.33 260.98,156.67 259.90,155.00 C258.82,153.33 257.48,151.67 256.40,150.00 C255.32,148.33 254.32,146.67 253.40,145.00 C252.48,143.33 251.61,141.67 250.90,140.00 C250.19,138.33 249.61,136.67 249.15,135.00 C248.69,133.33 248.37,131.67 248.15,130.00 C247.92,128.33 247.74,127.03 247.80,125.00 C247.86,122.97 248.23,120.42 248.50,117.80 C248.77,115.18 248.87,112.65 249.40,109.30 C249.93,105.95 250.55,101.55 251.70,97.70 C252.85,93.85 254.77,90.05 256.30,86.20 C257.83,82.35 259.45,78.45 260.90,74.60 C262.35,70.75 264.05,66.95 265.00,63.10 C265.95,59.25 266.26,54.63 266.60,51.50 C266.94,48.37 266.97,45.50 267.05,44.30 Z" fill="#D5B08A" stroke="#444" stroke-width="0.5"/>
<circle cx="271.7" cy="44.3" r="1.95" fill="#000"/>
<circle cx="273.4" cy="68.1" r="1.95" fill="#000"/>
<circle cx="264.8" cy="71.2" r="1.95" fill="#000"/>
<circle cx="268.8" cy="79.8" r="1.95" fill="#000"/>
<circle cx="271.7" cy="85.3" r="1.95" fill="#000"/>
<circle cx="270.8" cy="89.1" r="1.95" fill="#000"/>
<circle cx="273.4" cy="93.7" r="1.95" fill="#000"/>
<circle cx="269.4" cy="97.2" r="1.95" fill="#000"/>
<circle cx="271.7" cy="98.9" r="1.95" fill="#000"/>
<circle cx="265.4" cy="100.3" r="1.95" fill="#000"/>
<circle cx="273.4" cy="105.2" r="1.95" fill="#000"/>
<circle cx="271.5" cy="107.6" r="1.95" fill="#000"/>
<circle cx="265.0" cy="112.2" r="1.95" fill="#000"/>
<circle cx="268.8" cy="113.0" r="1.95" fill="#000"/>
<circle cx="265.4" cy="113.2" r="1.95" fill="#000"/>
<circle cx="268.8" cy="113.7" r="1.95" fill="#000"/>
<circle cx="267.7" cy="118.9" r="1.95" fill="#000"/>
<circle cx="264.6" cy="121.8" r="1.95" fill="#000"/>
<circle cx="268.2" cy="121.2" r="1.95" fill="#000"/>
<circle cx="271.7" cy="123.9" r="1.95" fill="#000"/>
<circle cx="269.2" cy="126.8" r="1.95" fill="#000"/>
<circle cx="264.6" cy="130.2" r="1.95" fill="#000"/>
<circle cx="267.7" cy="129.6" r="1.95" fill="#000"/>
<circle cx="270.3" cy="130.7" r="1.95" fill="#000"/>
<circle cx="268.2" cy="133.4" r="1.95" fill="#000"/>
<circle cx="271.1" cy="137.2" r="1.95" fill="#000"/>
<circle cx="273.4" cy="137.4" r="1.95" fill="#000"/>
<circle cx="268.2" cy="143.0" r="1.95" fill="#000"/>
<circle cx="271.7" cy="144.6" r="1.95" fill="#000"/>
<circle cx="264.2" cy="147.2" r="1.95" fill="#000"/>
<circle cx="267.1" cy="148.4" r="1.95" fill="#000"/>
<circle cx="267.7" cy="153.3" r="1.95" fill="#000"/>
<circle cx="270.6" cy="153.0" r="1.95" fill="#000"/>
<circle cx="266.2" cy="183.4" r="1.95" fill="#000"/>
<line x1="255.0" y1="119.7" x2="283.0" y2="119.7" stroke="#000" stroke-width="2.6"/>
<path d="M325.50,53.40 C325.80,54.03 326.68,55.80 327.30,57.20 C327.92,58.60 328.68,60.25 329.20,61.80 C329.72,63.35 330.02,64.18 330.40,66.50 C330.78,68.82 331.00,72.63 331.50,75.70 C332.00,78.77 332.78,81.83 333.40,84.90 C334.02,87.97 334.72,91.02 335.20,94.10 C335.68,97.18 336.77,100.38 336.30,103.40 C335.83,106.42 333.90,109.18 332.40,112.20 C330.90,115.22 328.77,118.42 327.30,121.50 C325.83,124.58 324.67,127.63 323.60,130.70 C322.53,133.77 321.62,136.83 320.90,139.90 C320.18,142.97 319.73,146.18 319.30,149.10 C318.87,152.02 318.47,156.02 318.30,157.40 L311.90,157.40 C311.73,156.02 311.33,152.02 310.90,149.10 C310.47,146.18 310.02,142.97 309.30,139.90 C308.58,136.83 307.67,133.77 306.60,130.70 C305.53,127.63 304.37,124.58 302.90,121.50 C301.43,118.42 299.30,115.22 297.80,112.20 C296.30,109.18 294.37,106.42 293.90,103.40 C293.43,100.38 294.52,97.18 295.00,94.10 C295.48,91.02 296.18,87.97 296.80,84.90 C297.42,81.83 298.20,78.77 298.70,75.70 C299.20,72.63 299.42,68.82 299.80,66.50 C300.18,64.18 300.48,63.35 301.00,61.80 C301.52,60.25 302.28,58.60 302.90,57.20 C303.52,55.80 304.40,54.03 304.70,53.40 Z" fill="#739DD2" stroke="#444" stroke-width="0.5"/>
<circle cx="317.7" cy="53.3" r="1.95" fill="#000"/>
<circle cx="317.0" cy="57.4" r="1.95" fill="#000"/>
<circle cx="312.0" cy="61.7" r="1.95" fill="#000"/>
<circle cx="313.5" cy="62.0" r="1.95" fill="#000"/>
<circle cx="312.1" cy="67.6" r="1.95" fill="#000"/>
<circle cx="315.8" cy="68.3" r="1.95" fill="#000"/>
<circle cx="313.1" cy="72.4" r="1.95" fill="#000"/>
<circle cx="311.4" cy="74.0" r="1.95" fill="#000"/>
<circle cx="319.3" cy="77.3" r="1.95" fill="#000"/>
<circle cx="311.7" cy="86.7" r="1.95" fill="#000"/>
<circle cx="314.2" cy="90.3" r="1.95" fill="#000"/>
<circle cx="318.6" cy="88.6" r="1.95" fill="#000"/>
<circle cx="316.8" cy="98.3" r="1.95" fill="#000"/>
<circle cx="314.0" cy="102.0" r="1.95" fill="#000"/>
<circle cx="319.5" cy="103.4" r="1.95" fill="#000"/>
<circle cx="312.6" cy="105.7" r="1.95" fill="#000"/>
<circle cx="317.7" cy="105.2" r="1.95" fill="#000"/>
<circle cx="313.1" cy="105.3" r="1.95" fill="#000"/>
<circle cx="318.6" cy="104.8" r="1.95" fill="#000"/>
<circle cx="318.4" cy="109.6" r="1.95" fill="#000"/>
<circle cx="312.3" cy="111.1" r="1.95" fill="#000"/>
<circle cx="313.5" cy="114.3" r="1.95" fill="#000"/>
<circle cx="313.8" cy="124.4" r="1.95" fill="#000"/>
<circle cx="315.6" cy="123.5" r="1.95" fill="#000"/>
<circle cx="312.1" cy="137.1" r="1.95" fill="#000"/>
<circle cx="319.3" cy="134.8" r="1.95" fill="#000"/>
<circle cx="319.7" cy="157.6" r="1.95" fill="#000"/>
<line x1="301.1" y1="100.1" x2="329.9" y2="100.1" stroke="#000" stroke-width="2.6"/>
<path d="M400.90,61.00 C401.03,61.67 401.07,62.67 401.70,65.00 C402.33,67.33 403.62,71.67 404.70,75.00 C405.78,78.33 407.03,81.67 408.20,85.00 C409.37,88.33 410.53,91.67 411.70,95.00 C412.87,98.33 414.03,101.67 415.20,105.00 C416.37,108.33 417.95,112.50 418.70,115.00 C419.45,117.50 419.57,118.33 419.70,120.00 C419.83,121.67 419.83,123.33 419.50,125.00 C419.17,126.67 418.42,128.33 417.70,130.00 C416.98,131.67 416.20,133.33 415.20,135.00 C414.20,136.67 412.92,138.33 411.70,140.00 C410.48,141.67 409.10,143.33 407.90,145.00 C406.70,146.67 405.57,148.33 404.50,150.00 C403.43,151.67 402.22,153.33 401.50,155.00 C400.78,156.67 400.45,157.50 400.20,160.00 C399.95,162.50 400.03,167.08 400.00,170.00 C399.97,172.92 400.00,176.25 400.00,177.50 L397.40,177.50 C397.40,176.25 397.43,172.92 397.40,170.00 C397.37,167.08 397.45,162.50 397.20,160.00 C396.95,157.50 396.62,156.67 395.90,155.00 C395.18,153.33 393.97,151.67 392.90,150.00 C391.83,148.33 390.70,146.67 389.50,145.00 C388.30,143.33 386.92,141.67 385.70,140.00 C384.48,138.33 383.20,136.67 382.20,135.00 C381.20,133.33 380.42,131.67 379.70,130.00 C378.98,128.33 378.23,126.67 377.90,125.00 C377.57,123.33 377.57,121.67 377.70,120.00 C377.83,118.33 377.95,117.50 378.70,115.00 C379.45,112.50 381.03,108.33 382.20,105.00 C383.37,101.67 384.53,98.33 385.70,95.00 C386.87,91.67 388.03,88.33 389.20,85.00 C390.37,81.67 391.62,78.33 392.70,75.00 C393.78,71.67 395.07,67.33 395.70,65.00 C396.33,62.67 396.37,61.67 396.50,61.00 Z" fill="#D5B08A" stroke="#444" stroke-width="0.5"/>
<circle cx="400.0" cy="61.0" r="1.95" fill="#000"/>
<circle cx="399.5" cy="71.0" r="1.95" fill="#000"/>
<circle cx="400.2" cy="76.5" r="1.95" fill="#000"/>
<circle cx="395.5" cy="83.8" r="1.95" fill="#000"/>
<circle cx="402.8" cy="85.2" r="1.95" fill="#000"/>
<circle cx="399.8" cy="87.2" r="1.95" fill="#000"/>
<circle cx="403.5" cy="89.5" r="1.95" fill="#000"/>
<circle cx="395.8" cy="92.2" r="1.95" fill="#000"/>
<circle cx="403.0" cy="96.2" r="1.95" fill="#000"/>
<circle cx="397.8" cy="98.5" r="1.95" fill="#000"/>
<circle cx="401.0" cy="100.5" r="1.95" fill="#000"/>
<circle cx="403.5" cy="105.0" r="1.95" fill="#000"/>
<circle cx="398.0" cy="107.0" r="1.95" fill="#000"/>
<circle cx="394.5" cy="109.0" r="1.95" fill="#000"/>
<circle cx="395.0" cy="110.5" r="1.95" fill="#000"/>
<circle cx="400.0" cy="112.2" r="1.95" fill="#000"/>
<circle cx="399.5" cy="114.0" r="1.95" fill="#000"/>
<circle cx="396.8" cy="118.0" r="1.95" fill="#000"/>
<circle cx="397.0" cy="117.5" r="1.95" fill="#000"/>
<circle cx="399.5" cy="119.0" r="1.95" fill="#000"/>
<circle cx="397.5" cy="122.0" r="1.95" fill="#000"/>
<circle cx="400.5" cy="122.5" r="1.95" fill="#000"/>
<circle cx="397.0" cy="125.0" r="1.95" fill="#000"/>
<circle cx="404.0" cy="125.0" r="1.95" fill="#000"/>
<circle cx="401.0" cy="127.0" r="1.95" fill="#000"/>
<circle cx="394.5" cy="128.5" r="1.95" fill="#000"/>
<circle cx="396.5" cy="130.5" r="1.95" fill="#000"/>
<circle cx="400.0" cy="134.0" r="1.95" fill="#000"/>
<circle cx="395.5" cy="137.0" r="1.95" fill="#000"/>
<circle cx="402.0" cy="136.5" r="1.95" fill="#000"/>
<circle cx="396.5" cy="140.0" r="1.95" fill="#000"/>
<circle cx="403.5" cy="141.0" r="1.95" fill="#000"/>
<circle cx="400.5" cy="144.5" r="1.95" fill="#000"/>
<circle cx="399.5" cy="177.2" r="1.95" fill="#000"/>
<line x1="385.0" y1="119.3" x2="413.0" y2="119.3" stroke="#000" stroke-width="2.6"/>
<path d="M460.40,78.90 C460.92,79.67 462.60,81.45 463.50,83.50 C464.40,85.55 465.35,88.63 465.80,91.20 C466.25,93.77 466.17,96.33 466.20,98.90 C466.23,101.47 466.00,104.03 466.00,106.60 C466.00,109.17 466.10,111.87 466.20,114.30 C466.30,116.73 466.53,119.30 466.60,121.20 C466.67,123.10 466.73,123.67 466.60,125.70 C466.47,127.73 466.27,130.83 465.80,133.40 C465.33,135.97 464.70,138.53 463.80,141.10 C462.90,143.67 461.48,146.23 460.40,148.80 C459.32,151.37 458.20,153.75 457.30,156.50 C456.40,159.25 455.38,163.83 455.00,165.30 L436.20,165.30 C435.82,163.83 434.80,159.25 433.90,156.50 C433.00,153.75 431.88,151.37 430.80,148.80 C429.72,146.23 428.30,143.67 427.40,141.10 C426.50,138.53 425.87,135.97 425.40,133.40 C424.93,130.83 424.73,127.73 424.60,125.70 C424.47,123.67 424.53,123.10 424.60,121.20 C424.67,119.30 424.90,116.73 425.00,114.30 C425.10,111.87 425.20,109.17 425.20,106.60 C425.20,104.03 424.97,101.47 425.00,98.90 C425.03,96.33 424.95,93.77 425.40,91.20 C425.85,88.63 426.80,85.55 427.70,83.50 C428.60,81.45 430.28,79.67 430.80,78.90 Z" fill="#739DD2" stroke="#444" stroke-width="0.5"/>
<circle cx="447.8" cy="78.8" r="1.95" fill="#000"/>
<circle cx="441.5" cy="85.2" r="1.95" fill="#000"/>
<circle cx="446.8" cy="89.1" r="1.95" fill="#000"/>
<circle cx="442.5" cy="94.3" r="1.95" fill="#000"/>
<circle cx="444.5" cy="97.8" r="1.95" fill="#000"/>
<circle cx="445.6" cy="105.1" r="1.95" fill="#000"/>
<circle cx="446.5" cy="120.1" r="1.95" fill="#000"/>
<circle cx="446.3" cy="121.1" r="1.95" fill="#000"/>
<circle cx="448.8" cy="125.5" r="1.95" fill="#000"/>
<circle cx="445.6" cy="132.6" r="1.95" fill="#000"/>
<circle cx="448.3" cy="141.1" r="1.95" fill="#000"/>
<circle cx="449.6" cy="147.6" r="1.95" fill="#000"/>
<circle cx="447.3" cy="150.5" r="1.95" fill="#000"/>
<circle cx="443.2" cy="165.3" r="1.95" fill="#000"/>
<line x1="431.9" y1="121.5" x2="460.0" y2="121.5" stroke="#000" stroke-width="2.6"/>
<path d="M506.80,67.10 C507.02,67.33 507.72,67.53 508.10,68.50 C508.48,69.47 508.98,70.95 509.10,72.90 C509.22,74.85 508.72,78.12 508.80,80.20 C508.88,82.28 508.73,83.82 509.60,85.40 C510.47,86.98 512.67,88.13 514.00,89.70 C515.33,91.27 516.68,92.85 517.60,94.80 C518.52,96.75 518.88,99.93 519.50,101.40 C520.12,102.87 520.48,102.25 521.30,103.60 C522.12,104.95 524.15,107.92 524.40,109.50 C524.65,111.08 524.17,111.65 522.80,113.10 C521.43,114.55 518.28,116.37 516.20,118.20 C514.12,120.03 511.60,122.52 510.30,124.10 C509.00,125.68 508.80,126.25 508.40,127.70 C508.00,129.15 508.15,130.85 507.90,132.80 C507.65,134.75 507.25,138.03 506.90,139.40 C506.55,140.77 505.98,140.73 505.80,141.00 L500.80,141.00 C500.62,140.73 500.05,140.77 499.70,139.40 C499.35,138.03 498.95,134.75 498.70,132.80 C498.45,130.85 498.60,129.15 498.20,127.70 C497.80,126.25 497.60,125.68 496.30,124.10 C495.00,122.52 492.48,120.03 490.40,118.20 C488.32,116.37 485.17,114.55 483.80,113.10 C482.43,111.65 481.95,111.08 482.20,109.50 C482.45,107.92 484.48,104.95 485.30,103.60 C486.12,102.25 486.48,102.87 487.10,101.40 C487.72,99.93 488.08,96.75 489.00,94.80 C489.92,92.85 491.27,91.27 492.60,89.70 C493.93,88.13 496.13,86.98 497.00,85.40 C497.87,83.82 497.72,82.28 497.80,80.20 C497.88,78.12 497.38,74.85 497.50,72.90 C497.62,70.95 498.12,69.47 498.50,68.50 C498.88,67.53 499.58,67.33 499.80,67.10 Z" fill="#D5B08A" stroke="#444" stroke-width="0.5"/>
<circle cx="504.9" cy="66.6" r="1.95" fill="#000"/>
<circle cx="499.4" cy="73.9" r="1.95" fill="#000"/>
<circle cx="501.5" cy="78.0" r="1.95" fill="#000"/>
<circle cx="507.0" cy="73.2" r="1.95" fill="#000"/>
<circle cx="500.8" cy="92.5" r="1.95" fill="#000"/>
<circle cx="504.6" cy="94.0" r="1.95" fill="#000"/>
<circle cx="501.5" cy="97.1" r="1.95" fill="#000"/>
<circle cx="500.8" cy="99.5" r="1.95" fill="#000"/>
<circle cx="498.7" cy="102.2" r="1.95" fill="#000"/>
<circle cx="502.9" cy="106.4" r="1.95" fill="#000"/>
<circle cx="499.4" cy="109.2" r="1.95" fill="#000"/>
<circle cx="505.6" cy="110.6" r="1.95" fill="#000"/>
<circle cx="502.9" cy="111.9" r="1.95" fill="#000"/>
<circle cx="500.1" cy="114.7" r="1.95" fill="#000"/>
<circle cx="504.9" cy="114.7" r="1.95" fill="#000"/>
<circle cx="498.7" cy="116.8" r="1.95" fill="#000"/>
<circle cx="503.5" cy="118.9" r="1.95" fill="#000"/>
<circle cx="507.0" cy="119.8" r="1.95" fill="#000"/>
<circle cx="505.6" cy="132.7" r="1.95" fill="#000"/>
<circle cx="500.0" cy="135.5" r="1.95" fill="#000"/>
<circle cx="502.9" cy="139.6" r="1.95" fill="#000"/>
<line x1="489.0" y1="108.5" x2="517.4" y2="108.5" stroke="#000" stroke-width="2.6"/>
<path d="M552.60,44.20 C552.37,45.13 551.15,47.23 551.20,49.80 C551.25,52.37 553.05,56.53 552.90,59.60 C552.75,62.67 550.80,65.53 550.30,68.20 C549.80,70.87 549.37,72.52 549.90,75.60 C550.43,78.68 551.73,83.22 553.50,86.70 C555.27,90.18 557.63,93.33 560.50,96.50 C563.37,99.67 570.40,103.03 570.70,105.70 C571.00,108.37 565.37,110.45 562.30,112.50 C559.23,114.55 554.23,116.38 552.30,118.00 C550.37,119.62 550.53,120.58 550.70,122.20 C550.87,123.82 552.63,125.40 553.30,127.70 C553.97,130.00 555.00,133.23 554.70,136.00 C554.40,138.77 552.28,141.98 551.50,144.30 C550.72,146.62 550.25,145.28 550.00,149.90 C549.75,154.52 549.67,167.15 550.00,172.00 C550.33,176.85 551.52,177.15 552.00,179.00 C552.48,180.85 552.75,182.42 552.90,183.10 L546.10,183.10 C546.25,182.42 546.52,180.85 547.00,179.00 C547.48,177.15 548.67,176.85 549.00,172.00 C549.33,167.15 549.25,154.52 549.00,149.90 C548.75,145.28 548.28,146.62 547.50,144.30 C546.72,141.98 544.60,138.77 544.30,136.00 C544.00,133.23 545.03,130.00 545.70,127.70 C546.37,125.40 548.13,123.82 548.30,122.20 C548.47,120.58 548.63,119.62 546.70,118.00 C544.77,116.38 539.77,114.55 536.70,112.50 C533.63,110.45 528.00,108.37 528.30,105.70 C528.60,103.03 535.63,99.67 538.50,96.50 C541.37,93.33 543.73,90.18 545.50,86.70 C547.27,83.22 548.57,78.68 549.10,75.60 C549.63,72.52 549.20,70.87 548.70,68.20 C548.20,65.53 546.25,62.67 546.10,59.60 C545.95,56.53 547.75,52.37 547.80,49.80 C547.85,47.23 546.63,45.13 546.40,44.20 Z" fill="#739DD2" stroke="#444" stroke-width="0.5"/>
<circle cx="545.8" cy="44.2" r="1.95" fill="#000"/>
<circle cx="552.6" cy="60.6" r="1.95" fill="#000"/>
<circle cx="546.5" cy="88.5" r="1.95" fill="#000"/>
<circle cx="552.6" cy="94.7" r="1.95" fill="#000"/>
<circle cx="546.5" cy="103.3" r="1.95" fill="#000"/>
<circle cx="548.3" cy="103.9" r="1.95" fill="#000"/>
<circle cx="545.8" cy="106.4" r="1.95" fill="#000"/>
<circle cx="549.5" cy="107.6" r="1.95" fill="#000"/>
<circle cx="545.2" cy="112.8" r="1.95" fill="#000"/>
<circle cx="545.0" cy="113.2" r="1.95" fill="#000"/>
<circle cx="545.6" cy="134.3" r="1.95" fill="#000"/>
<circle cx="547.0" cy="139.5" r="1.95" fill="#000"/>
<circle cx="547.7" cy="183.1" r="1.95" fill="#000"/>
<line x1="535.4" y1="105.8" x2="563.7" y2="105.8" stroke="#000" stroke-width="2.6"/>
<path d="M611.10,65.20 C611.23,65.75 611.13,66.55 611.90,68.50 C612.67,70.45 614.22,74.08 615.70,76.90 C617.18,79.72 619.17,82.58 620.80,85.40 C622.43,88.22 624.30,90.98 625.50,93.80 C626.70,96.62 627.52,99.47 628.00,102.30 C628.48,105.13 628.72,108.48 628.40,110.80 C628.08,113.12 626.90,114.58 626.10,116.20 C625.30,117.82 624.58,118.38 623.60,120.50 C622.62,122.62 621.05,126.08 620.20,128.90 C619.35,131.72 619.07,134.58 618.50,137.40 C617.93,140.22 617.43,142.98 616.80,145.80 C616.17,148.62 615.42,151.47 614.70,154.30 C613.98,157.13 612.87,161.38 612.50,162.80 L601.70,162.80 C601.33,161.38 600.22,157.13 599.50,154.30 C598.78,151.47 598.03,148.62 597.40,145.80 C596.77,142.98 596.27,140.22 595.70,137.40 C595.13,134.58 594.85,131.72 594.00,128.90 C593.15,126.08 591.58,122.62 590.60,120.50 C589.62,118.38 588.90,117.82 588.10,116.20 C587.30,114.58 586.12,113.12 585.80,110.80 C585.48,108.48 585.72,105.13 586.20,102.30 C586.68,99.47 587.50,96.62 588.70,93.80 C589.90,90.98 591.77,88.22 593.40,85.40 C595.03,82.58 597.02,79.72 598.50,76.90 C599.98,74.08 601.53,70.45 602.30,68.50 C603.07,66.55 602.97,65.75 603.10,65.20 Z" fill="#D5B08A" stroke="#444" stroke-width="0.5"/>
<circle cx="608.0" cy="65.2" r="1.95" fill="#000"/>
<circle cx="604.4" cy="77.3" r="1.95" fill="#000"/>
<circle cx="608.1" cy="80.1" r="1.95" fill="#000"/>
<circle cx="611.6" cy="80.3" r="1.95" fill="#000"/>
<circle cx="604.8" cy="90.0" r="1.95" fill="#000"/>
<circle cx="610.1" cy="91.5" r="1.95" fill="#000"/>
<circle cx="602.6" cy="93.8" r="1.95" fill="#000"/>
<circle cx="608.1" cy="96.5" r="1.95" fill="#000"/>
<circle cx="610.6" cy="96.0" r="1.95" fill="#000"/>
<circle cx="605.3" cy="102.3" r="1.95" fill="#000"/>
<circle cx="608.9" cy="101.9" r="1.95" fill="#000"/>
<circle cx="612.0" cy="102.3" r="1.95" fill="#000"/>
<circle cx="602.7" cy="104.8" r="1.95" fill="#000"/>
<circle cx="604.4" cy="106.1" r="1.95" fill="#000"/>
<circle cx="608.5" cy="108.2" r="1.95" fill="#000"/>
<circle cx="602.7" cy="109.9" r="1.95" fill="#000"/>
<circle cx="604.0" cy="113.3" r="1.95" fill="#000"/>
<circle cx="604.4" cy="115.4" r="1.95" fill="#000"/>
<circle cx="609.9" cy="114.5" r="1.95" fill="#000"/>
<circle cx="606.5" cy="117.2" r="1.95" fill="#000"/>
<circle cx="602.7" cy="118.8" r="1.95" fill="#000"/>
<circle cx="610.1" cy="122.2" r="1.95" fill="#000"/>
<circle cx="607.5" cy="129.8" r="1.95" fill="#000"/>
<circle cx="604.2" cy="134.7" r="1.95" fill="#000"/>
<circle cx="607.4" cy="134.2" r="1.95" fill="#000"/>
<circle cx="605.5" cy="140.3" r="1.95" fill="#000"/>
<circle cx="610.8" cy="139.2" r="1.95" fill="#000"/>
<circle cx="610.1" cy="141.6" r="1.95" fill="#000"/>
<circle cx="604.7" cy="150.1" r="1.95" fill="#000"/>
<circle cx="603.8" cy="153.0" r="1.95" fill="#000"/>
<circle cx="606.7" cy="157.3" r="1.95" fill="#000"/>
<circle cx="609.1" cy="163.0" r="1.95" fill="#000"/>
<line x1="593.3" y1="111.8" x2="621.1" y2="111.8" stroke="#000" stroke-width="2.6"/>
<path d="M664.90,68.60 C665.37,69.35 666.70,71.12 667.70,73.10 C668.70,75.08 669.98,77.73 670.90,80.50 C671.82,83.27 672.67,86.63 673.20,89.70 C673.73,92.77 674.10,95.83 674.10,98.90 C674.10,101.97 673.88,105.03 673.20,108.10 C672.52,111.17 670.73,115.32 670.00,117.30 C669.27,119.28 669.88,117.88 668.80,120.00 C667.72,122.12 665.30,126.67 663.50,130.00 C661.70,133.33 659.42,136.67 658.00,140.00 C656.58,143.33 655.63,146.67 655.00,150.00 C654.37,153.33 654.20,156.67 654.20,160.00 C654.20,163.33 654.78,166.92 655.00,170.00 C655.22,173.08 655.42,177.08 655.50,178.50 L651.70,178.50 C651.78,177.08 651.98,173.08 652.20,170.00 C652.42,166.92 653.00,163.33 653.00,160.00 C653.00,156.67 652.83,153.33 652.20,150.00 C651.57,146.67 650.62,143.33 649.20,140.00 C647.78,136.67 645.50,133.33 643.70,130.00 C641.90,126.67 639.48,122.12 638.40,120.00 C637.32,117.88 637.93,119.28 637.20,117.30 C636.47,115.32 634.68,111.17 634.00,108.10 C633.32,105.03 633.10,101.97 633.10,98.90 C633.10,95.83 633.47,92.77 634.00,89.70 C634.53,86.63 635.38,83.27 636.30,80.50 C637.22,77.73 638.50,75.08 639.50,73.10 C640.50,71.12 641.83,69.35 642.30,68.60 Z" fill="#739DD2" stroke="#444" stroke-width="0.5"/>
<circle cx="650.1" cy="69.4" r="1.95" fill="#000"/>
<circle cx="654.6" cy="68.6" r="1.95" fill="#000"/>
<circle cx="652.4" cy="73.3" r="1.95" fill="#000"/>
<circle cx="657.3" cy="77.9" r="1.95" fill="#000"/>
<circle cx="651.8" cy="79.7" r="1.95" fill="#000"/>
<circle cx="652.7" cy="84.6" r="1.95" fill="#000"/>
<circle cx="656.1" cy="84.9" r="1.95" fill="#000"/>
<circle cx="653.8" cy="86.2" r="1.95" fill="#000"/>
<circle cx="656.4" cy="92.0" r="1.95" fill="#000"/>
<circle cx="654.0" cy="96.0" r="1.95" fill="#000"/>
<circle cx="651.1" cy="99.4" r="1.95" fill="#000"/>
<circle cx="655.2" cy="99.8" r="1.95" fill="#000"/>
<circle cx="657.5" cy="98.4" r="1.95" fill="#000"/>
<circle cx="651.5" cy="104.0" r="1.95" fill="#000"/>
<circle cx="657.3" cy="104.0" r="1.95" fill="#000"/>
<circle cx="656.1" cy="107.2" r="1.95" fill="#000"/>
<circle cx="655.7" cy="110.0" r="1.95" fill="#000"/>
<circle cx="651.1" cy="116.9" r="1.95" fill="#000"/>
<circle cx="655.7" cy="116.4" r="1.95" fill="#000"/>
<circle cx="657.3" cy="118.7" r="1.95" fill="#000"/>
<circle cx="657.2" cy="120.2" r="1.95" fill="#000"/>
<circle cx="649.8" cy="124.5" r="1.95" fill="#000"/>
<circle cx="656.5" cy="132.0" r="1.95" fill="#000"/>
<circle cx="652.5" cy="135.8" r="1.95" fill="#000"/>
<circle cx="653.5" cy="179.0" r="1.95" fill="#000"/>
<line x1="639.5" y1="99.6" x2="667.9" y2="99.6" stroke="#000" stroke-width="2.6"/>
<path d="M70.40,480.50 C70.83,481.50 71.80,483.57 73.00,486.50 C74.20,489.43 76.35,494.25 77.60,498.10 C78.85,501.95 79.83,505.75 80.50,509.60 C81.17,513.45 81.35,517.35 81.60,521.20 C81.85,525.05 81.93,528.85 82.00,532.70 C82.07,536.55 82.12,540.33 82.00,544.30 C81.88,548.27 81.45,552.53 81.30,556.50 C81.15,560.47 81.23,564.25 81.10,568.10 C80.97,571.95 81.08,575.75 80.50,579.60 C79.92,583.45 78.57,587.35 77.60,591.20 C76.63,595.05 75.83,598.70 74.70,602.70 C73.57,606.70 71.45,613.12 70.80,615.20 L50.60,615.20 C49.95,613.12 47.83,606.70 46.70,602.70 C45.57,598.70 44.77,595.05 43.80,591.20 C42.83,587.35 41.48,583.45 40.90,579.60 C40.32,575.75 40.43,571.95 40.30,568.10 C40.17,564.25 40.25,560.47 40.10,556.50 C39.95,552.53 39.52,548.27 39.40,544.30 C39.28,540.33 39.33,536.55 39.40,532.70 C39.47,528.85 39.55,525.05 39.80,521.20 C40.05,517.35 40.23,513.45 40.90,509.60 C41.57,505.75 42.55,501.95 43.80,498.10 C45.05,494.25 47.20,489.43 48.40,486.50 C49.60,483.57 50.57,481.50 51.00,480.50 Z" fill="#D5B08A" stroke="#444" stroke-width="0.5"/>
<circle cx="58.5" cy="480.5" r="1.95" fill="#000"/>
<circle cx="60.2" cy="502.5" r="1.95" fill="#000"/>
<circle cx="65.1" cy="502.9" r="1.95" fill="#000"/>
<circle cx="60.0" cy="508.8" r="1.95" fill="#000"/>
<circle cx="62.8" cy="516.6" r="1.95" fill="#000"/>
<circle cx="60.2" cy="528.3" r="1.95" fill="#000"/>
<circle cx="60.8" cy="538.3" r="1.95" fill="#000"/>
<circle cx="62.3" cy="540.2" r="1.95" fill="#000"/>
<circle cx="56.8" cy="548.2" r="1.95" fill="#000"/>
<circle cx="57.9" cy="560.2" r="1.95" fill="#000"/>
<circle cx="64.3" cy="578.5" r="1.95" fill="#000"/>
<circle cx="63.5" cy="579.4" r="1.95" fill="#000"/>
<circle cx="58.5" cy="583.1" r="1.95" fill="#000"/>
<circle cx="61.6" cy="591.8" r="1.95" fill="#000"/>
<circle cx="58.7" cy="600.7" r="1.95" fill="#000"/>
<circle cx="56.2" cy="615.7" r="1.95" fill="#000"/>
<line x1="47.0" y1="544.3" x2="74.7" y2="544.3" stroke="#000" stroke-width="2.6"/>
<path d="M112.60,499.20 C112.47,499.62 112.25,500.65 111.80,501.70 C111.35,502.75 110.53,504.22 109.90,505.50 C109.27,506.78 108.42,508.12 108.00,509.40 C107.58,510.68 107.53,511.28 107.40,513.20 C107.28,515.12 107.25,518.33 107.25,520.90 C107.25,523.47 107.09,526.67 107.40,528.60 C107.71,530.53 108.30,531.22 109.10,532.50 C109.90,533.78 110.72,534.52 112.20,536.30 C113.68,538.08 116.28,541.28 118.00,543.20 C119.72,545.12 121.08,546.38 122.50,547.80 C123.92,549.22 125.58,550.42 126.50,551.70 C127.42,552.98 128.00,554.22 128.00,555.50 C128.00,556.78 128.25,557.47 126.50,559.40 C124.75,561.33 120.38,564.53 117.50,567.10 C114.62,569.67 110.67,572.88 109.20,574.80 C107.73,576.72 108.58,577.32 108.70,578.60 C108.82,579.88 109.25,580.57 109.90,582.50 C110.55,584.43 112.15,588.60 112.60,590.20 C113.05,591.80 112.60,591.78 112.60,592.10 L101.40,592.10 C101.40,591.78 100.95,591.80 101.40,590.20 C101.85,588.60 103.45,584.43 104.10,582.50 C104.75,580.57 105.18,579.88 105.30,578.60 C105.42,577.32 106.27,576.72 104.80,574.80 C103.33,572.88 99.38,569.67 96.50,567.10 C93.62,564.53 89.25,561.33 87.50,559.40 C85.75,557.47 86.00,556.78 86.00,555.50 C86.00,554.22 86.58,552.98 87.50,551.70 C88.42,550.42 90.08,549.22 91.50,547.80 C92.92,546.38 94.28,545.12 96.00,543.20 C97.72,541.28 100.32,538.08 101.80,536.30 C103.28,534.52 104.10,533.78 104.90,532.50 C105.70,531.22 106.29,530.53 106.60,528.60 C106.91,526.67 106.75,523.47 106.75,520.90 C106.75,518.33 106.72,515.12 106.60,513.20 C106.47,511.28 106.42,510.68 106.00,509.40 C105.58,508.12 104.73,506.78 104.10,505.50 C103.47,504.22 102.65,502.75 102.20,501.70 C101.75,500.65 101.53,499.62 101.40,499.20 Z" fill="#739DD2" stroke="#444" stroke-width="0.5"/>
<circle cx="103.5" cy="499.2" r="1.95" fill="#000"/>
<circle cx="108.2" cy="541.7" r="1.95" fill="#000"/>
<circle cx="104.9" cy="549.8" r="1.95" fill="#000"/>
<circle cx="103.2" cy="552.3" r="1.95" fill="#000"/>
<circle cx="110.5" cy="555.2" r="1.95" fill="#000"/>
<circle cx="108.9" cy="560.2" r="1.95" fill="#000"/>
<circle cx="107.4" cy="562.5" r="1.95" fill="#000"/>
<circle cx="109.3" cy="569.0" r="1.95" fill="#000"/>
<circle cx="103.2" cy="592.1" r="1.95" fill="#000"/>
<line x1="93.2" y1="555.9" x2="120.8" y2="555.9" stroke="#000" stroke-width="2.6"/>
<path d="M174.00,495.10 C174.33,496.48 175.40,500.73 176.00,503.40 C176.60,506.07 177.15,508.53 177.60,511.10 C178.05,513.67 178.32,516.23 178.70,518.80 C179.08,521.37 179.43,523.43 179.90,526.50 C180.37,529.57 180.97,534.50 181.50,537.20 C182.03,539.90 182.52,540.50 183.10,542.70 C183.68,544.90 184.50,547.83 185.00,550.40 C185.50,552.97 186.03,555.53 186.10,558.10 C186.17,560.67 185.78,563.88 185.40,565.80 C185.02,567.72 184.35,568.32 183.80,569.60 C183.25,570.88 182.38,572.85 182.10,573.50 L147.10,573.50 C146.82,572.85 145.95,570.88 145.40,569.60 C144.85,568.32 144.18,567.72 143.80,565.80 C143.42,563.88 143.03,560.67 143.10,558.10 C143.17,555.53 143.70,552.97 144.20,550.40 C144.70,547.83 145.52,544.90 146.10,542.70 C146.68,540.50 147.17,539.90 147.70,537.20 C148.23,534.50 148.83,529.57 149.30,526.50 C149.77,523.43 150.12,521.37 150.50,518.80 C150.88,516.23 151.15,513.67 151.60,511.10 C152.05,508.53 152.60,506.07 153.20,503.40 C153.80,500.73 154.87,496.48 155.20,495.10 Z" fill="#D5B08A" stroke="#444" stroke-width="0.5"/>
<circle cx="164.2" cy="495.1" r="1.95" fill="#000"/>
<circle cx="166.5" cy="501.2" r="1.95" fill="#000"/>
<circle cx="161.2" cy="518.4" r="1.95" fill="#000"/>
<circle cx="161.4" cy="519.9" r="1.95" fill="#000"/>
<circle cx="164.0" cy="535.7" r="1.95" fill="#000"/>
<circle cx="165.4" cy="540.2" r="1.95" fill="#000"/>
<circle cx="160.6" cy="545.8" r="1.95" fill="#000"/>
<circle cx="161.2" cy="563.3" r="1.95" fill="#000"/>
<circle cx="166.2" cy="562.1" r="1.95" fill="#000"/>
<circle cx="168.3" cy="564.8" r="1.95" fill="#000"/>
<circle cx="161.7" cy="567.3" r="1.95" fill="#000"/>
<circle cx="162.5" cy="573.5" r="1.95" fill="#000"/>
<line x1="150.4" y1="542.7" x2="178.8" y2="542.7" stroke="#000" stroke-width="2.6"/>
<path d="M224.50,522.80 C225.08,524.32 227.07,528.97 228.00,531.90 C228.93,534.83 229.55,537.58 230.10,540.40 C230.65,543.22 231.02,545.98 231.30,548.80 C231.58,551.62 231.65,553.92 231.80,557.30 C231.95,560.68 232.28,565.90 232.20,569.10 C232.12,572.30 231.72,573.87 231.30,576.50 C230.88,579.13 230.32,582.08 229.70,584.90 C229.08,587.72 228.38,590.58 227.60,593.40 C226.82,596.22 225.72,598.98 225.00,601.80 C224.28,604.62 223.77,607.37 223.30,610.30 C222.83,613.23 222.38,617.88 222.20,619.40 L199.40,619.40 C199.22,617.88 198.77,613.23 198.30,610.30 C197.83,607.37 197.32,604.62 196.60,601.80 C195.88,598.98 194.78,596.22 194.00,593.40 C193.22,590.58 192.52,587.72 191.90,584.90 C191.28,582.08 190.72,579.13 190.30,576.50 C189.88,573.87 189.48,572.30 189.40,569.10 C189.32,565.90 189.65,560.68 189.80,557.30 C189.95,553.92 190.02,551.62 190.30,548.80 C190.58,545.98 190.95,543.22 191.50,540.40 C192.05,537.58 192.67,534.83 193.60,531.90 C194.53,528.97 196.52,524.32 197.10,522.80 Z" fill="#739DD2" stroke="#444" stroke-width="0.5"/>
<circle cx="206.7" cy="522.8" r="1.95" fill="#000"/>
<circle cx="212.4" cy="538.5" r="1.95" fill="#000"/>
<circle cx="212.2" cy="553.1" r="1.95" fill="#000"/>
<circle cx="212.9" cy="569.1" r="1.95" fill="#000"/>
<circle cx="210.1" cy="581.1" r="1.95" fill="#000"/>
<circle cx="210.4" cy="598.0" r="1.95" fill="#000"/>
<circle cx="214.3" cy="619.6" r="1.95" fill="#000"/>
<line x1="197.0" y1="570.4" x2="224.9" y2="570.4" stroke="#000" stroke-width="2.6"/>
<path d="M286.95,488.80 C287.12,489.33 287.70,489.80 287.95,492.00 C288.20,494.20 288.49,498.67 288.45,502.00 C288.41,505.33 288.04,508.67 287.70,512.00 C287.36,515.33 286.78,518.67 286.40,522.00 C286.02,525.33 285.65,528.00 285.40,532.00 C285.15,536.00 285.02,542.50 284.90,546.00 C284.78,549.50 284.73,550.17 284.70,553.00 C284.67,555.83 284.75,559.67 284.70,563.00 C284.65,566.33 284.70,569.67 284.40,573.00 C284.10,576.33 283.48,579.67 282.90,583.00 C282.32,586.33 281.43,589.95 280.90,593.00 C280.37,596.05 279.90,599.92 279.70,601.30 L256.70,601.30 C256.50,599.92 256.03,596.05 255.50,593.00 C254.97,589.95 254.08,586.33 253.50,583.00 C252.92,579.67 252.30,576.33 252.00,573.00 C251.70,569.67 251.75,566.33 251.70,563.00 C251.65,559.67 251.73,555.83 251.70,553.00 C251.67,550.17 251.62,549.50 251.50,546.00 C251.38,542.50 251.25,536.00 251.00,532.00 C250.75,528.00 250.38,525.33 250.00,522.00 C249.62,518.67 249.04,515.33 248.70,512.00 C248.36,508.67 247.99,505.33 247.95,502.00 C247.91,498.67 248.20,494.20 248.45,492.00 C248.70,489.80 249.28,489.33 249.45,488.80 Z" fill="#D5B08A" stroke="#444" stroke-width="0.5"/>
<circle cx="271.0" cy="488.8" r="1.95" fill="#000"/>
<circle cx="264.0" cy="497.2" r="1.95" fill="#000"/>
<circle cx="268.0" cy="497.2" r="1.95" fill="#000"/>
<circle cx="264.0" cy="527.8" r="1.95" fill="#000"/>
<circle cx="265.2" cy="567.0" r="1.95" fill="#000"/>
<circle cx="268.5" cy="567.8" r="1.95" fill="#000"/>
<circle cx="271.5" cy="601.5" r="1.95" fill="#000"/>
<line x1="254.0" y1="527.8" x2="282.0" y2="527.8" stroke="#000" stroke-width="2.6"/>
<path d="M323.90,503.20 C324.62,504.45 326.78,508.03 328.20,510.70 C329.62,513.37 331.28,516.38 332.40,519.20 C333.52,522.02 334.33,525.07 334.90,527.60 C335.47,530.13 336.00,531.87 335.80,534.40 C335.60,536.93 334.48,539.85 333.70,542.80 C332.92,545.75 331.88,548.78 331.10,552.10 C330.32,555.42 329.20,559.52 329.00,562.70 C328.80,565.88 329.48,567.68 329.90,571.20 C330.32,574.72 331.58,580.28 331.50,583.80 C331.42,587.32 330.42,589.18 329.40,592.30 C328.38,595.42 326.07,600.80 325.40,602.50 L303.80,602.50 C303.13,600.80 300.82,595.42 299.80,592.30 C298.78,589.18 297.78,587.32 297.70,583.80 C297.62,580.28 298.88,574.72 299.30,571.20 C299.72,567.68 300.40,565.88 300.20,562.70 C300.00,559.52 298.88,555.42 298.10,552.10 C297.32,548.78 296.28,545.75 295.50,542.80 C294.72,539.85 293.60,536.93 293.40,534.40 C293.20,531.87 293.73,530.13 294.30,527.60 C294.87,525.07 295.68,522.02 296.80,519.20 C297.92,516.38 299.58,513.37 301.00,510.70 C302.42,508.03 304.58,504.45 305.30,503.20 Z" fill="#739DD2" stroke="#444" stroke-width="0.5"/>
<circle cx="318.6" cy="503.2" r="1.95" fill="#000"/>
<circle cx="309.9" cy="520.4" r="1.95" fill="#000"/>
<circle cx="315.0" cy="520.4" r="1.95" fill="#000"/>
<circle cx="317.1" cy="522.5" r="1.95" fill="#000"/>
<circle cx="314.5" cy="536.5" r="1.95" fill="#000"/>
<circle cx="314.1" cy="539.9" r="1.95" fill="#000"/>
<circle cx="314.5" cy="541.1" r="1.95" fill="#000"/>
<circle cx="311.2" cy="544.4" r="1.95" fill="#000"/>
<circle cx="314.1" cy="544.4" r="1.95" fill="#000"/>
<circle cx="311.2" cy="575.8" r="1.95" fill="#000"/>
<circle cx="314.7" cy="582.0" r="1.95" fill="#000"/>
<circle cx="313.5" cy="584.9" r="1.95" fill="#000"/>
<circle cx="314.4" cy="589.3" r="1.95" fill="#000"/>
<circle cx="317.7" cy="602.3" r="1.95" fill="#000"/>
<line x1="300.6" y1="543.9" x2="328.7" y2="543.9" stroke="#000" stroke-width="2.6"/>
<path d="M403.60,480.40 C403.70,481.30 404.02,484.00 404.20,485.80 C404.38,487.60 404.27,489.40 404.70,491.20 C405.13,493.00 405.47,493.92 406.80,496.60 C408.13,499.28 410.90,503.72 412.70,507.30 C414.50,510.88 416.33,514.50 417.60,518.10 C418.87,521.70 419.67,525.30 420.30,528.90 C420.93,532.50 421.50,536.62 421.40,539.70 C421.30,542.78 420.78,544.32 419.70,547.40 C418.62,550.48 416.60,554.62 414.90,558.20 C413.20,561.78 410.85,565.32 409.50,568.90 C408.15,572.48 407.33,576.10 406.80,579.70 C406.27,583.30 406.38,585.73 406.30,590.50 C406.22,595.27 406.30,605.33 406.30,608.30 L393.90,608.30 C393.90,605.33 393.98,595.27 393.90,590.50 C393.82,585.73 393.93,583.30 393.40,579.70 C392.87,576.10 392.05,572.48 390.70,568.90 C389.35,565.32 387.00,561.78 385.30,558.20 C383.60,554.62 381.58,550.48 380.50,547.40 C379.42,544.32 378.90,542.78 378.80,539.70 C378.70,536.62 379.27,532.50 379.90,528.90 C380.53,525.30 381.33,521.70 382.60,518.10 C383.87,514.50 385.70,510.88 387.50,507.30 C389.30,503.72 392.07,499.28 393.40,496.60 C394.73,493.92 395.07,493.00 395.50,491.20 C395.93,489.40 395.82,487.60 396.00,485.80 C396.18,484.00 396.50,481.30 396.60,480.40 Z" fill="#D5B08A" stroke="#444" stroke-width="0.5"/>
<circle cx="402.4" cy="480.6" r="1.95" fill="#000"/>
<circle cx="401.3" cy="511.1" r="1.95" fill="#000"/>
<circle cx="397.0" cy="513.6" r="1.95" fill="#000"/>
<circle cx="398.4" cy="518.3" r="1.95" fill="#000"/>
<circle cx="397.6" cy="528.0" r="1.95" fill="#000"/>
<circle cx="401.6" cy="530.2" r="1.95" fill="#000"/>
<circle cx="400.6" cy="534.3" r="1.95" fill="#000"/>
<circle cx="401.6" cy="537.3" r="1.95" fill="#000"/>
<circle cx="398.6" cy="548.5" r="1.95" fill="#000"/>
<circle cx="403.8" cy="548.3" r="1.95" fill="#000"/>
<circle cx="398.8" cy="553.0" r="1.95" fill="#000"/>
<circle cx="402.4" cy="552.6" r="1.95" fill="#000"/>
<circle cx="401.6" cy="572.0" r="1.95" fill="#000"/>
<circle cx="397.8" cy="574.5" r="1.95" fill="#000"/>
<circle cx="398.4" cy="599.3" r="1.95" fill="#000"/>
<circle cx="403.8" cy="608.3" r="1.95" fill="#000"/>
<line x1="386.2" y1="542.7" x2="414.3" y2="542.7" stroke="#000" stroke-width="2.6"/>
<path d="M453.00,510.20 C453.30,511.13 453.97,513.07 454.80,515.80 C455.63,518.53 456.75,523.02 458.00,526.60 C459.25,530.18 460.95,534.07 462.30,537.30 C463.65,540.53 465.18,543.48 466.10,546.00 C467.02,548.52 467.90,550.25 467.80,552.40 C467.70,554.55 466.48,556.57 465.50,558.90 C464.52,561.23 462.50,565.15 461.90,566.40 L431.10,566.40 C430.50,565.15 428.48,561.23 427.50,558.90 C426.52,556.57 425.30,554.55 425.20,552.40 C425.10,550.25 425.98,548.52 426.90,546.00 C427.82,543.48 429.35,540.53 430.70,537.30 C432.05,534.07 433.75,530.18 435.00,526.60 C436.25,523.02 437.37,518.53 438.20,515.80 C439.03,513.07 439.70,511.13 440.00,510.20 Z" fill="#739DD2" stroke="#444" stroke-width="0.5"/>
<circle cx="448.0" cy="510.2" r="1.95" fill="#000"/>
<circle cx="442.3" cy="525.7" r="1.95" fill="#000"/>
<circle cx="443.1" cy="532.5" r="1.95" fill="#000"/>
<circle cx="446.6" cy="542.9" r="1.95" fill="#000"/>
<circle cx="442.8" cy="552.4" r="1.95" fill="#000"/>
<circle cx="450.6" cy="550.8" r="1.95" fill="#000"/>
<circle cx="451.0" cy="555.1" r="1.95" fill="#000"/>
<circle cx="443.1" cy="565.9" r="1.95" fill="#000"/>
<circle cx="443.4" cy="567.3" r="1.95" fill="#000"/>
<line x1="432.3" y1="551.1" x2="460.7" y2="551.1" stroke="#000" stroke-width="2.6"/>
<path d="M511.00,529.20 C511.77,530.32 514.03,533.63 515.60,535.90 C517.17,538.17 519.02,540.50 520.40,542.80 C521.78,545.10 523.20,547.40 523.90,549.70 C524.60,552.00 524.77,554.28 524.60,556.60 C524.43,558.92 524.05,560.13 522.90,563.60 C521.75,567.07 519.50,572.78 517.70,577.40 C515.90,582.02 513.38,587.60 512.10,591.30 C510.82,595.00 510.57,597.30 510.00,599.60 C509.43,601.90 508.92,604.18 508.70,605.10 L498.90,605.10 C498.68,604.18 498.17,601.90 497.60,599.60 C497.03,597.30 496.78,595.00 495.50,591.30 C494.22,587.60 491.70,582.02 489.90,577.40 C488.10,572.78 485.85,567.07 484.70,563.60 C483.55,560.13 483.17,558.92 483.00,556.60 C482.83,554.28 483.00,552.00 483.70,549.70 C484.40,547.40 485.82,545.10 487.20,542.80 C488.58,540.50 490.43,538.17 492.00,535.90 C493.57,533.63 495.83,530.32 496.60,529.20 Z" fill="#D5B08A" stroke="#444" stroke-width="0.5"/>
<circle cx="506.4" cy="529.6" r="1.95" fill="#000"/>
<circle cx="503.9" cy="543.2" r="1.95" fill="#000"/>
<circle cx="501.6" cy="550.4" r="1.95" fill="#000"/>
<circle cx="508.1" cy="551.4" r="1.95" fill="#000"/>
<circle cx="499.8" cy="556.9" r="1.95" fill="#000"/>
<circle cx="503.7" cy="556.6" r="1.95" fill="#000"/>
<circle cx="501.4" cy="567.0" r="1.95" fill="#000"/>
<circle cx="507.0" cy="564.7" r="1.95" fill="#000"/>
<circle cx="503.2" cy="579.5" r="1.95" fill="#000"/>
<circle cx="505.3" cy="581.8" r="1.95" fill="#000"/>
<circle cx="504.3" cy="585.4" r="1.95" fill="#000"/>
<circle cx="505.0" cy="605.8" r="1.95" fill="#000"/>
<line x1="490.1" y1="560.8" x2="517.8" y2="560.8" stroke="#000" stroke-width="2.6"/>
<path d="M562.40,516.60 C562.63,517.82 563.22,520.38 563.80,523.90 C564.38,527.42 565.20,533.08 565.90,537.70 C566.60,542.32 567.30,546.98 568.00,551.60 C568.70,556.22 569.68,561.48 570.10,565.40 C570.52,569.32 570.85,571.87 570.50,575.10 C570.15,578.33 568.57,581.80 568.00,584.80 C567.43,587.80 567.25,591.72 567.10,593.10 L533.10,593.10 C532.95,591.72 532.77,587.80 532.20,584.80 C531.63,581.80 530.05,578.33 529.70,575.10 C529.35,571.87 529.68,569.32 530.10,565.40 C530.52,561.48 531.50,556.22 532.20,551.60 C532.90,546.98 533.60,542.32 534.30,537.70 C535.00,533.08 535.82,527.42 536.40,523.90 C536.98,520.38 537.57,517.82 537.80,516.60 Z" fill="#739DD2" stroke="#444" stroke-width="0.5"/>
<circle cx="552.7" cy="516.6" r="1.95" fill="#000"/>
<circle cx="550.9" cy="526.2" r="1.95" fill="#000"/>
<circle cx="552.7" cy="553.6" r="1.95" fill="#000"/>
<circle cx="550.6" cy="556.8" r="1.95" fill="#000"/>
<circle cx="554.4" cy="581.3" r="1.95" fill="#000"/>
<circle cx="546.9" cy="583.4" r="1.95" fill="#000"/>
<circle cx="547.9" cy="593.5" r="1.95" fill="#000"/>
<line x1="536.1" y1="556.4" x2="564.5" y2="556.4" stroke="#000" stroke-width="2.6"/>
<path d="M613.70,485.90 C613.27,487.10 611.87,490.82 611.10,493.10 C610.33,495.38 609.60,497.42 609.10,499.60 C608.60,501.78 608.20,504.02 608.10,506.20 C608.00,508.38 608.00,510.52 608.50,512.70 C609.00,514.88 609.90,517.12 611.10,519.30 C612.30,521.48 614.05,523.62 615.70,525.80 C617.35,527.98 619.47,530.22 621.00,532.40 C622.53,534.58 623.82,536.73 624.90,538.90 C625.98,541.07 626.95,543.22 627.50,545.40 C628.05,547.58 628.48,549.70 628.20,552.00 C627.92,554.30 626.20,558.00 625.80,559.20 L589.20,559.20 C588.80,558.00 587.08,554.30 586.80,552.00 C586.52,549.70 586.95,547.58 587.50,545.40 C588.05,543.22 589.02,541.07 590.10,538.90 C591.18,536.73 592.47,534.58 594.00,532.40 C595.53,530.22 597.65,527.98 599.30,525.80 C600.95,523.62 602.70,521.48 603.90,519.30 C605.10,517.12 606.00,514.88 606.50,512.70 C607.00,510.52 607.00,508.38 606.90,506.20 C606.80,504.02 606.40,501.78 605.90,499.60 C605.40,497.42 604.67,495.38 603.90,493.10 C603.13,490.82 601.73,487.10 601.30,485.90 Z" fill="#D5B08A" stroke="#444" stroke-width="0.5"/>
<circle cx="609.8" cy="485.9" r="1.95" fill="#000"/>
<circle cx="611.1" cy="530.4" r="1.95" fill="#000"/>
<circle cx="604.6" cy="541.5" r="1.95" fill="#000"/>
<circle cx="603.3" cy="553.6" r="1.95" fill="#000"/>
<circle cx="608.1" cy="555.7" r="1.95" fill="#000"/>
<circle cx="607.6" cy="559.2" r="1.95" fill="#000"/>
<line x1="593.5" y1="541.8" x2="621.6" y2="541.8" stroke="#000" stroke-width="2.6"/>
<path d="M660.60,521.30 C660.78,522.37 661.35,525.22 661.70,527.70 C662.05,530.18 662.32,533.38 662.70,536.20 C663.08,539.02 663.30,541.78 664.00,544.60 C664.70,547.42 665.78,550.28 666.90,553.10 C668.02,555.92 669.57,558.83 670.70,561.50 C671.83,564.17 673.05,566.88 673.70,569.10 C674.35,571.32 675.17,572.17 674.60,574.80 C674.03,577.43 671.87,581.80 670.30,584.90 C668.73,588.00 666.75,590.58 665.20,593.40 C663.65,596.22 662.05,598.98 661.00,601.80 C659.95,604.62 659.47,607.40 658.90,610.30 C658.33,613.20 657.82,617.72 657.60,619.20 L649.60,619.20 C649.38,617.72 648.87,613.20 648.30,610.30 C647.73,607.40 647.25,604.62 646.20,601.80 C645.15,598.98 643.55,596.22 642.00,593.40 C640.45,590.58 638.47,588.00 636.90,584.90 C635.33,581.80 633.17,577.43 632.60,574.80 C632.03,572.17 632.85,571.32 633.50,569.10 C634.15,566.88 635.37,564.17 636.50,561.50 C637.63,558.83 639.18,555.92 640.30,553.10 C641.42,550.28 642.50,547.42 643.20,544.60 C643.90,541.78 644.12,539.02 644.50,536.20 C644.88,533.38 645.15,530.18 645.50,527.70 C645.85,525.22 646.42,522.37 646.60,521.30 Z" fill="#739DD2" stroke="#444" stroke-width="0.5"/>
<circle cx="649.6" cy="521.3" r="1.95" fill="#000"/>
<circle cx="652.1" cy="526.4" r="1.95" fill="#000"/>
<circle cx="650.2" cy="540.4" r="1.95" fill="#000"/>
<circle cx="655.7" cy="550.1" r="1.95" fill="#000"/>
<circle cx="653.4" cy="552.4" r="1.95" fill="#000"/>
<circle cx="651.9" cy="562.5" r="1.95" fill="#000"/>
<circle cx="650.7" cy="569.1" r="1.95" fill="#000"/>
<circle cx="650.8" cy="569.7" r="1.95" fill="#000"/>
<circle cx="651.3" cy="574.6" r="1.95" fill="#000"/>
<circle cx="653.4" cy="580.7" r="1.95" fill="#000"/>
<circle cx="655.1" cy="593.0" r="1.95" fill="#000"/>
<circle cx="657.6" cy="598.0" r="1.95" fill="#000"/>
<circle cx="655.2" cy="619.8" r="1.95" fill="#000"/>
<line x1="639.7" y1="574.6" x2="667.8" y2="574.6" stroke="#000" stroke-width="2.6"/>
<line x1="33.0" y1="253.0" x2="33.0" y2="413.5" stroke="#9E9E9E" stroke-width="1"/>
<line x1="29.5" y1="385.5" x2="33.0" y2="385.5" stroke="#9E9E9E" stroke-width="1"/>
<text x="28.5" y="388.8" font-size="9.60" text-anchor="end" fill="#555" stroke="#555" stroke-width="0.08">25</text>
<line x1="29.5" y1="337.5" x2="33.0" y2="337.5" stroke="#9E9E9E" stroke-width="1"/>
<text x="28.5" y="340.9" font-size="9.60" text-anchor="end" fill="#555" stroke="#555" stroke-width="0.08">50</text>
<line x1="29.5" y1="289.5" x2="33.0" y2="289.5" stroke="#9E9E9E" stroke-width="1"/>
<text x="28.5" y="292.9" font-size="9.60" text-anchor="end" fill="#555" stroke="#555" stroke-width="0.08">75</text>
<line x1="33.0" y1="413.5" x2="135.0" y2="413.5" stroke="#9E9E9E" stroke-width="1"/>
<line x1="137.0" y1="413.5" x2="239.0" y2="413.5" stroke="#9E9E9E" stroke-width="1"/>
<line x1="241.0" y1="413.5" x2="343.0" y2="413.5" stroke="#9E9E9E" stroke-width="1"/>
<line x1="44.1" y1="413.5" x2="44.1" y2="417.0" stroke="#9E9E9E" stroke-width="0.8"/>
<text x="44.1" y="424.6" font-size="8.80" text-anchor="middle" fill="#4D4D4D" stroke="#4D4D4D" stroke-width="0.18">2</text>
<line x1="72.8" y1="413.5" x2="72.8" y2="417.0" stroke="#9E9E9E" stroke-width="0.8"/>
<text x="72.8" y="424.6" font-size="8.80" text-anchor="middle" fill="#4D4D4D" stroke="#4D4D4D" stroke-width="0.18">4</text>
<line x1="101.5" y1="413.5" x2="101.5" y2="417.0" stroke="#9E9E9E" stroke-width="0.8"/>
<text x="101.5" y="424.6" font-size="8.80" text-anchor="middle" fill="#4D4D4D" stroke="#4D4D4D" stroke-width="0.18">6</text>
<line x1="130.2" y1="413.5" x2="130.2" y2="417.0" stroke="#9E9E9E" stroke-width="0.8"/>
<text x="130.2" y="424.6" font-size="8.80" text-anchor="middle" fill="#4D4D4D" stroke="#4D4D4D" stroke-width="0.18">8</text>
<text x="84.0" y="250.9" font-size="9.60" text-anchor="middle" fill="#1a1a1a" stroke="#1a1a1a" stroke-width="0.18" textLength="19.8" lengthAdjust="spacingAndGlyphs">HIV−</text>
<text x="38.5" y="263.1" font-size="10" fill="#A8A8A8" stroke="#A8A8A8" stroke-width="0.15" textLength="77.0" lengthAdjust="spacingAndGlyphs"><tspan font-style="italic">R</tspan> = 0.32, <tspan font-style="italic">p</tspan> = 0.11</text>
<line x1="148.1" y1="413.5" x2="148.1" y2="417.0" stroke="#9E9E9E" stroke-width="0.8"/>
<text x="148.1" y="424.6" font-size="8.80" text-anchor="middle" fill="#4D4D4D" stroke="#4D4D4D" stroke-width="0.18">2</text>
<line x1="176.8" y1="413.5" x2="176.8" y2="417.0" stroke="#9E9E9E" stroke-width="0.8"/>
<text x="176.8" y="424.6" font-size="8.80" text-anchor="middle" fill="#4D4D4D" stroke="#4D4D4D" stroke-width="0.18">4</text>
<line x1="205.5" y1="413.5" x2="205.5" y2="417.0" stroke="#9E9E9E" stroke-width="0.8"/>
<text x="205.5" y="424.6" font-size="8.80" text-anchor="middle" fill="#4D4D4D" stroke="#4D4D4D" stroke-width="0.18">6</text>
<line x1="234.2" y1="413.5" x2="234.2" y2="417.0" stroke="#9E9E9E" stroke-width="0.8"/>
<text x="234.2" y="424.6" font-size="8.80" text-anchor="middle" fill="#4D4D4D" stroke="#4D4D4D" stroke-width="0.18">8</text>
<text x="188.0" y="250.9" font-size="9.60" text-anchor="middle" fill="#1a1a1a" stroke="#1a1a1a" stroke-width="0.18" textLength="65.0" lengthAdjust="spacingAndGlyphs">PLHIV−ART&lt;3m</text>
<text x="142.5" y="263.1" font-size="10" fill="#9B2A22" stroke="#9B2A22" stroke-width="0.15" textLength="90.7" lengthAdjust="spacingAndGlyphs"><tspan font-style="italic">R</tspan> = −0.084, <tspan font-style="italic">p</tspan> = 0.74</text>
<line x1="252.1" y1="413.5" x2="252.1" y2="417.0" stroke="#9E9E9E" stroke-width="0.8"/>
<text x="252.1" y="424.6" font-size="8.80" text-anchor="middle" fill="#4D4D4D" stroke="#4D4D4D" stroke-width="0.18">2</text>
<line x1="280.8" y1="413.5" x2="280.8" y2="417.0" stroke="#9E9E9E" stroke-width="0.8"/>
<text x="280.8" y="424.6" font-size="8.80" text-anchor="middle" fill="#4D4D4D" stroke="#4D4D4D" stroke-width="0.18">4</text>
<line x1="309.5" y1="413.5" x2="309.5" y2="417.0" stroke="#9E9E9E" stroke-width="0.8"/>
<text x="309.5" y="424.6" font-size="8.80" text-anchor="middle" fill="#4D4D4D" stroke="#4D4D4D" stroke-width="0.18">6</text>
<line x1="338.2" y1="413.5" x2="338.2" y2="417.0" stroke="#9E9E9E" stroke-width="0.8"/>
<text x="338.2" y="424.6" font-size="8.80" text-anchor="middle" fill="#4D4D4D" stroke="#4D4D4D" stroke-width="0.18">8</text>
<text x="292.0" y="250.9" font-size="9.60" text-anchor="middle" fill="#1a1a1a" stroke="#1a1a1a" stroke-width="0.18" textLength="62.0" lengthAdjust="spacingAndGlyphs">PLHIV−ART&gt;yr</text>
<text x="246.5" y="263.1" font-size="10" fill="#2462A3" stroke="#2462A3" stroke-width="0.15" textLength="91.0" lengthAdjust="spacingAndGlyphs"><tspan font-style="italic">R</tspan> = −0.34, <tspan font-style="italic">p</tspan> = 0.048</text>
<text x="188.0" y="434.4" font-size="9.40" text-anchor="middle" fill="#1a1a1a" stroke="#1a1a1a" stroke-width="0.18" textLength="108.0" lengthAdjust="spacingAndGlyphs">Carriage Density (CFU/ML)</text>
<text x="11.0" y="334.6" font-size="9.30" text-anchor="middle" fill="#1a1a1a" stroke="#1a1a1a" stroke-width="0.18" textLength="138.9" lengthAdjust="spacingAndGlyphs" transform="rotate(-90 11.0 334.6)">Proportion of CD11b<tspan baseline-shift="4.6" font-size="5.6">++</tspan> Neutrophils</text>
<line x1="372.5" y1="253.0" x2="372.5" y2="413.5" stroke="#9E9E9E" stroke-width="1"/>
<line x1="369.0" y1="256.5" x2="372.5" y2="256.5" stroke="#9E9E9E" stroke-width="1"/>
<text x="367.1" y="259.7" font-size="9.60" text-anchor="end" fill="#555" stroke="#555" stroke-width="0.08">0</text>
<line x1="369.0" y1="297.5" x2="372.5" y2="297.5" stroke="#9E9E9E" stroke-width="1"/>
<text x="367.1" y="301.1" font-size="9.60" text-anchor="end" fill="#555" stroke="#555" stroke-width="0.08">−1</text>
<line x1="369.0" y1="339.5" x2="372.5" y2="339.5" stroke="#9E9E9E" stroke-width="1"/>
<text x="367.1" y="342.4" font-size="9.60" text-anchor="end" fill="#555" stroke="#555" stroke-width="0.08">−2</text>
<line x1="369.0" y1="380.5" x2="372.5" y2="380.5" stroke="#9E9E9E" stroke-width="1"/>
<text x="367.1" y="383.8" font-size="9.60" text-anchor="end" fill="#555" stroke="#555" stroke-width="0.08">−3</text>
<line x1="372.0" y1="413.5" x2="474.0" y2="413.5" stroke="#9E9E9E" stroke-width="1"/>
<line x1="476.0" y1="413.5" x2="578.0" y2="413.5" stroke="#9E9E9E" stroke-width="1"/>
<line x1="580.0" y1="413.5" x2="682.0" y2="413.5" stroke="#9E9E9E" stroke-width="1"/>
<line x1="383.5" y1="413.5" x2="383.5" y2="417.0" stroke="#9E9E9E" stroke-width="0.8"/>
<text x="383.5" y="424.6" font-size="8.80" text-anchor="middle" fill="#4D4D4D" stroke="#4D4D4D" stroke-width="0.18">2</text>
<line x1="412.1" y1="413.5" x2="412.1" y2="417.0" stroke="#9E9E9E" stroke-width="0.8"/>
<text x="412.1" y="424.6" font-size="8.80" text-anchor="middle" fill="#4D4D4D" stroke="#4D4D4D" stroke-width="0.18">4</text>
<line x1="440.6" y1="413.5" x2="440.6" y2="417.0" stroke="#9E9E9E" stroke-width="0.8"/>
<text x="440.6" y="424.6" font-size="8.80" text-anchor="middle" fill="#4D4D4D" stroke="#4D4D4D" stroke-width="0.18">6</text>
<line x1="469.2" y1="413.5" x2="469.2" y2="417.0" stroke="#9E9E9E" stroke-width="0.8"/>
<text x="469.2" y="424.6" font-size="8.80" text-anchor="middle" fill="#4D4D4D" stroke="#4D4D4D" stroke-width="0.18">8</text>
<text x="423.0" y="250.9" font-size="9.60" text-anchor="middle" fill="#1a1a1a" stroke="#1a1a1a" stroke-width="0.18" textLength="19.8" lengthAdjust="spacingAndGlyphs">HIV−</text>
<text x="377.5" y="267.0" font-size="10" fill="#A8A8A8" stroke="#A8A8A8" stroke-width="0.15" textLength="84.0" lengthAdjust="spacingAndGlyphs"><tspan font-style="italic">R</tspan> = 0.026, <tspan font-style="italic">p</tspan> = 0.88</text>
<line x1="487.5" y1="413.5" x2="487.5" y2="417.0" stroke="#9E9E9E" stroke-width="0.8"/>
<text x="487.5" y="424.6" font-size="8.80" text-anchor="middle" fill="#4D4D4D" stroke="#4D4D4D" stroke-width="0.18">2</text>
<line x1="516.1" y1="413.5" x2="516.1" y2="417.0" stroke="#9E9E9E" stroke-width="0.8"/>
<text x="516.1" y="424.6" font-size="8.80" text-anchor="middle" fill="#4D4D4D" stroke="#4D4D4D" stroke-width="0.18">4</text>
<line x1="544.6" y1="413.5" x2="544.6" y2="417.0" stroke="#9E9E9E" stroke-width="0.8"/>
<text x="544.6" y="424.6" font-size="8.80" text-anchor="middle" fill="#4D4D4D" stroke="#4D4D4D" stroke-width="0.18">6</text>
<line x1="573.2" y1="413.5" x2="573.2" y2="417.0" stroke="#9E9E9E" stroke-width="0.8"/>
<text x="573.2" y="424.6" font-size="8.80" text-anchor="middle" fill="#4D4D4D" stroke="#4D4D4D" stroke-width="0.18">8</text>
<text x="527.0" y="250.9" font-size="9.60" text-anchor="middle" fill="#1a1a1a" stroke="#1a1a1a" stroke-width="0.18" textLength="65.0" lengthAdjust="spacingAndGlyphs">PLHIV−ART&lt;3m</text>
<text x="481.5" y="267.0" font-size="10" fill="#9B2A22" stroke="#9B2A22" stroke-width="0.15" textLength="91.0" lengthAdjust="spacingAndGlyphs"><tspan font-style="italic">R</tspan> = −0.034, <tspan font-style="italic">p</tspan> = 0.86</text>
<line x1="591.5" y1="413.5" x2="591.5" y2="417.0" stroke="#9E9E9E" stroke-width="0.8"/>
<text x="591.5" y="424.6" font-size="8.80" text-anchor="middle" fill="#4D4D4D" stroke="#4D4D4D" stroke-width="0.18">2</text>
<line x1="620.1" y1="413.5" x2="620.1" y2="417.0" stroke="#9E9E9E" stroke-width="0.8"/>
<text x="620.1" y="424.6" font-size="8.80" text-anchor="middle" fill="#4D4D4D" stroke="#4D4D4D" stroke-width="0.18">4</text>
<line x1="648.6" y1="413.5" x2="648.6" y2="417.0" stroke="#9E9E9E" stroke-width="0.8"/>
<text x="648.6" y="424.6" font-size="8.80" text-anchor="middle" fill="#4D4D4D" stroke="#4D4D4D" stroke-width="0.18">6</text>
<line x1="677.2" y1="413.5" x2="677.2" y2="417.0" stroke="#9E9E9E" stroke-width="0.8"/>
<text x="677.2" y="424.6" font-size="8.80" text-anchor="middle" fill="#4D4D4D" stroke="#4D4D4D" stroke-width="0.18">8</text>
<text x="631.0" y="250.9" font-size="9.60" text-anchor="middle" fill="#1a1a1a" stroke="#1a1a1a" stroke-width="0.18" textLength="62.0" lengthAdjust="spacingAndGlyphs">PLHIV−ART&gt;yr</text>
<text x="585.5" y="267.0" font-size="10" fill="#2462A3" stroke="#2462A3" stroke-width="0.15" textLength="92.0" lengthAdjust="spacingAndGlyphs"><tspan font-style="italic">R</tspan> = −0.047, <tspan font-style="italic">p</tspan> = 0.76</text>
<text x="527.0" y="434.4" font-size="9.40" text-anchor="middle" fill="#1a1a1a" stroke="#1a1a1a" stroke-width="0.18" textLength="108.0" lengthAdjust="spacingAndGlyphs">Carriage Density (CFU/ML)</text>
<text x="353.0" y="333.5" font-size="9.30" text-anchor="middle" fill="#1a1a1a" stroke="#1a1a1a" stroke-width="0.18" textLength="151.8" lengthAdjust="spacingAndGlyphs" transform="rotate(-90 353.0 333.5)">Monocyte to epithelial cell ratio (log10)</text>
<circle cx="42.0" cy="380.3" r="2.5" fill="#A8A8A8"/>
<circle cx="47.3" cy="330.0" r="2.5" fill="#A8A8A8"/>
<circle cx="56.5" cy="335.8" r="2.5" fill="#A8A8A8"/>
<circle cx="51.2" cy="401.5" r="2.5" fill="#A8A8A8"/>
<circle cx="58.4" cy="363.0" r="2.5" fill="#A8A8A8"/>
<circle cx="61.6" cy="383.5" r="2.5" fill="#A8A8A8"/>
<circle cx="63.5" cy="393.5" r="2.5" fill="#A8A8A8"/>
<circle cx="65.1" cy="401.1" r="2.5" fill="#A8A8A8"/>
<circle cx="65.8" cy="402.7" r="2.5" fill="#A8A8A8"/>
<circle cx="69.2" cy="383.5" r="2.5" fill="#A8A8A8"/>
<circle cx="72.2" cy="379.4" r="2.5" fill="#A8A8A8"/>
<circle cx="80.8" cy="317.8" r="2.5" fill="#A8A8A8"/>
<circle cx="84.7" cy="307.4" r="2.5" fill="#A8A8A8"/>
<circle cx="81.9" cy="403.4" r="2.5" fill="#A8A8A8"/>
<circle cx="83.8" cy="376.4" r="2.5" fill="#A8A8A8"/>
<circle cx="94.2" cy="391.6" r="2.5" fill="#A8A8A8"/>
<circle cx="96.9" cy="336.5" r="2.5" fill="#A8A8A8"/>
<circle cx="97.4" cy="400.6" r="2.5" fill="#A8A8A8"/>
<circle cx="103.8" cy="375.2" r="2.5" fill="#A8A8A8"/>
<circle cx="104.3" cy="367.9" r="2.5" fill="#A8A8A8"/>
<circle cx="106.9" cy="307.6" r="2.5" fill="#A8A8A8"/>
<circle cx="114.7" cy="374.1" r="2.5" fill="#A8A8A8"/>
<circle cx="117.2" cy="357.2" r="2.5" fill="#A8A8A8"/>
<circle cx="130.2" cy="324.2" r="2.5" fill="#A8A8A8"/>
<path d="M42.20,352.34 L45.13,352.70 L48.06,353.03 L50.99,353.32 L53.92,353.57 L56.85,353.77 L59.78,353.90 L62.71,353.94 L65.64,353.89 L68.57,353.73 L71.50,353.42 L74.43,352.94 L77.36,352.27 L80.29,351.39 L83.22,350.29 L86.15,348.97 L89.08,347.43 L92.01,345.69 L94.94,343.79 L97.87,341.75 L100.80,339.58 L103.73,337.31 L106.66,334.97 L109.59,332.55 L112.52,330.08 L115.45,327.56 L118.38,325.01 L121.31,322.42 L124.24,319.81 L127.17,317.18 L130.10,314.52 L130.10,376.28 L127.17,375.85 L124.24,375.44 L121.31,375.06 L118.38,374.70 L115.45,374.37 L112.52,374.08 L109.59,373.84 L106.66,373.65 L103.73,373.53 L100.80,373.49 L97.87,373.55 L94.94,373.73 L92.01,374.05 L89.08,374.55 L86.15,375.23 L83.22,376.14 L80.29,377.26 L77.36,378.61 L74.43,380.17 L71.50,381.92 L68.57,383.83 L65.64,385.89 L62.71,388.07 L59.78,390.34 L56.85,392.70 L53.92,395.12 L50.99,397.60 L48.06,400.12 L45.13,402.67 L42.20,405.26Z" fill="#9D9B9F" fill-opacity="0.53"/>
<line x1="42.2" y1="378.8" x2="130.1" y2="345.4" stroke="#999999" stroke-width="1"/>
<circle cx="141.2" cy="306.2" r="2.5" fill="#981A0E"/>
<circle cx="145.4" cy="394.6" r="2.5" fill="#981A0E"/>
<circle cx="141.2" cy="387.0" r="2.5" fill="#981A0E"/>
<circle cx="163.8" cy="288.0" r="2.5" fill="#981A0E"/>
<circle cx="172.6" cy="297.7" r="2.5" fill="#981A0E"/>
<circle cx="188.1" cy="297.7" r="2.5" fill="#981A0E"/>
<circle cx="190.8" cy="306.5" r="2.5" fill="#981A0E"/>
<circle cx="210.5" cy="309.9" r="2.5" fill="#981A0E"/>
<circle cx="214.6" cy="326.3" r="2.5" fill="#981A0E"/>
<circle cx="203.5" cy="338.8" r="2.5" fill="#981A0E"/>
<circle cx="174.5" cy="361.2" r="2.5" fill="#981A0E"/>
<circle cx="170.8" cy="373.9" r="2.5" fill="#981A0E"/>
<circle cx="169.2" cy="376.6" r="2.5" fill="#981A0E"/>
<circle cx="180.7" cy="392.3" r="2.5" fill="#981A0E"/>
<circle cx="199.2" cy="385.4" r="2.5" fill="#981A0E"/>
<circle cx="217.6" cy="372.2" r="2.5" fill="#981A0E"/>
<circle cx="218.1" cy="380.8" r="2.5" fill="#981A0E"/>
<circle cx="214.2" cy="400.4" r="2.5" fill="#981A0E"/>
<path d="M141.20,307.77 L143.78,309.78 L146.36,311.76 L148.94,313.70 L151.52,315.61 L154.10,317.46 L156.68,319.26 L159.26,320.99 L161.84,322.65 L164.42,324.21 L167.00,325.66 L169.58,326.99 L172.16,328.17 L174.74,329.17 L177.32,329.99 L179.90,330.60 L182.48,330.98 L185.06,331.14 L187.64,331.07 L190.22,330.77 L192.80,330.28 L195.38,329.60 L197.96,328.76 L200.54,327.77 L203.12,326.67 L205.70,325.47 L208.28,324.18 L210.86,322.81 L213.44,321.39 L216.02,319.91 L218.60,318.38 L218.60,386.82 L216.02,384.90 L213.44,383.03 L210.86,381.21 L208.28,379.45 L205.70,377.76 L203.12,376.17 L200.54,374.67 L197.96,373.30 L195.38,372.06 L192.80,370.99 L190.22,370.10 L187.64,369.41 L185.06,368.95 L182.48,368.71 L179.90,368.70 L177.32,368.91 L174.74,369.34 L172.16,369.95 L169.58,370.74 L167.00,371.67 L164.42,372.73 L161.84,373.90 L159.26,375.16 L156.68,376.50 L154.10,377.91 L151.52,379.37 L148.94,380.88 L146.36,382.43 L143.78,384.01 L141.20,385.63Z" fill="#9D9B9F" fill-opacity="0.53"/>
<line x1="141.2" y1="346.7" x2="218.6" y2="352.6" stroke="#981A0E" stroke-width="1"/>
<circle cx="244.9" cy="281.5" r="2.5" fill="#0B4F9A"/>
<circle cx="249.1" cy="296.5" r="2.5" fill="#0B4F9A"/>
<circle cx="259.2" cy="293.1" r="2.5" fill="#0B4F9A"/>
<circle cx="259.2" cy="299.1" r="2.5" fill="#0B4F9A"/>
<circle cx="280.7" cy="300.5" r="2.5" fill="#0B4F9A"/>
<circle cx="295.2" cy="285.0" r="2.5" fill="#0B4F9A"/>
<circle cx="272.6" cy="306.9" r="2.5" fill="#0B4F9A"/>
<circle cx="267.5" cy="313.4" r="2.5" fill="#0B4F9A"/>
<circle cx="266.2" cy="320.3" r="2.5" fill="#0B4F9A"/>
<circle cx="273.1" cy="328.2" r="2.5" fill="#0B4F9A"/>
<circle cx="275.4" cy="333.9" r="2.5" fill="#0B4F9A"/>
<circle cx="267.5" cy="335.3" r="2.5" fill="#0B4F9A"/>
<circle cx="259.2" cy="339.2" r="2.5" fill="#0B4F9A"/>
<circle cx="261.1" cy="342.9" r="2.5" fill="#0B4F9A"/>
<circle cx="259.2" cy="345.7" r="2.5" fill="#0B4F9A"/>
<circle cx="253.2" cy="350.3" r="2.5" fill="#0B4F9A"/>
<circle cx="259.2" cy="351.9" r="2.5" fill="#0B4F9A"/>
<circle cx="294.5" cy="315.2" r="2.5" fill="#0B4F9A"/>
<circle cx="306.3" cy="315.7" r="2.5" fill="#0B4F9A"/>
<circle cx="317.2" cy="313.4" r="2.5" fill="#0B4F9A"/>
<circle cx="307.2" cy="348.7" r="2.5" fill="#0B4F9A"/>
<circle cx="322.7" cy="358.9" r="2.5" fill="#0B4F9A"/>
<circle cx="244.9" cy="369.2" r="2.5" fill="#0B4F9A"/>
<circle cx="291.1" cy="368.1" r="2.5" fill="#0B4F9A"/>
<circle cx="280.2" cy="383.1" r="2.5" fill="#0B4F9A"/>
<circle cx="284.6" cy="386.1" r="2.5" fill="#0B4F9A"/>
<circle cx="299.9" cy="388.9" r="2.5" fill="#0B4F9A"/>
<circle cx="301.5" cy="394.2" r="2.5" fill="#0B4F9A"/>
<circle cx="320.6" cy="382.6" r="2.5" fill="#0B4F9A"/>
<circle cx="244.9" cy="398.8" r="2.5" fill="#0B4F9A"/>
<circle cx="288.3" cy="400.6" r="2.5" fill="#0B4F9A"/>
<circle cx="292.2" cy="400.6" r="2.5" fill="#0B4F9A"/>
<circle cx="315.3" cy="401.5" r="2.5" fill="#0B4F9A"/>
<circle cx="326.4" cy="400.6" r="2.5" fill="#0B4F9A"/>
<path d="M245.10,302.76 L247.81,305.35 L250.53,307.91 L253.24,310.44 L255.95,312.92 L258.67,315.34 L261.38,317.71 L264.09,320.01 L266.81,322.22 L269.52,324.35 L272.23,326.37 L274.95,328.28 L277.66,330.07 L280.37,331.73 L283.09,333.26 L285.80,334.65 L288.51,335.91 L291.23,337.05 L293.94,338.08 L296.65,339.00 L299.37,339.84 L302.08,340.59 L304.79,341.28 L307.51,341.90 L310.22,342.48 L312.93,343.01 L315.65,343.50 L318.36,343.95 L321.07,344.38 L323.79,344.79 L326.50,345.17 L326.50,397.43 L323.79,394.76 L321.07,392.11 L318.36,389.49 L315.65,386.89 L312.93,384.33 L310.22,381.80 L307.51,379.33 L304.79,376.90 L302.08,374.53 L299.37,372.23 L296.65,370.01 L293.94,367.88 L291.23,365.86 L288.51,363.94 L285.80,362.15 L283.09,360.49 L280.37,358.96 L277.66,357.57 L274.95,356.30 L272.23,355.16 L269.52,354.13 L266.81,353.20 L264.09,352.37 L261.38,351.61 L258.67,350.92 L255.95,350.30 L253.24,349.72 L250.53,349.19 L247.81,348.70 L245.10,348.24Z" fill="#9D9B9F" fill-opacity="0.53"/>
<line x1="245.1" y1="325.5" x2="326.5" y2="371.3" stroke="#0B4F9A" stroke-width="1"/>
<circle cx="377.0" cy="388.0" r="2.5" fill="#A8A8A8"/>
<circle cx="381.0" cy="393.6" r="2.5" fill="#A8A8A8"/>
<circle cx="381.0" cy="352.6" r="2.5" fill="#A8A8A8"/>
<circle cx="387.0" cy="343.4" r="2.5" fill="#A8A8A8"/>
<circle cx="390.4" cy="347.6" r="2.5" fill="#A8A8A8"/>
<circle cx="395.6" cy="353.6" r="2.5" fill="#A8A8A8"/>
<circle cx="398.0" cy="302.0" r="2.5" fill="#A8A8A8"/>
<circle cx="398.0" cy="362.6" r="2.5" fill="#A8A8A8"/>
<circle cx="398.0" cy="376.8" r="2.5" fill="#A8A8A8"/>
<circle cx="401.0" cy="344.4" r="2.5" fill="#A8A8A8"/>
<circle cx="403.0" cy="350.4" r="2.5" fill="#A8A8A8"/>
<circle cx="402.4" cy="314.4" r="2.5" fill="#A8A8A8"/>
<circle cx="404.4" cy="312.4" r="2.5" fill="#A8A8A8"/>
<circle cx="404.4" cy="358.4" r="2.5" fill="#A8A8A8"/>
<circle cx="404.4" cy="384.6" r="2.5" fill="#A8A8A8"/>
<circle cx="408.6" cy="406.2" r="2.5" fill="#A8A8A8"/>
<circle cx="411.4" cy="316.0" r="2.5" fill="#A8A8A8"/>
<circle cx="411.6" cy="329.6" r="2.5" fill="#A8A8A8"/>
<circle cx="412.4" cy="388.0" r="2.5" fill="#A8A8A8"/>
<circle cx="420.0" cy="350.0" r="2.5" fill="#A8A8A8"/>
<circle cx="421.0" cy="351.6" r="2.5" fill="#A8A8A8"/>
<circle cx="421.2" cy="364.4" r="2.5" fill="#A8A8A8"/>
<circle cx="423.0" cy="373.4" r="2.5" fill="#A8A8A8"/>
<circle cx="424.0" cy="343.4" r="2.5" fill="#A8A8A8"/>
<circle cx="424.4" cy="379.0" r="2.5" fill="#A8A8A8"/>
<circle cx="433.2" cy="344.6" r="2.5" fill="#A8A8A8"/>
<circle cx="436.4" cy="359.0" r="2.5" fill="#A8A8A8"/>
<circle cx="436.4" cy="367.0" r="2.5" fill="#A8A8A8"/>
<circle cx="436.6" cy="323.0" r="2.5" fill="#A8A8A8"/>
<circle cx="443.0" cy="320.4" r="2.5" fill="#A8A8A8"/>
<circle cx="444.0" cy="358.0" r="2.5" fill="#A8A8A8"/>
<circle cx="446.4" cy="357.0" r="2.5" fill="#A8A8A8"/>
<circle cx="450.0" cy="355.0" r="2.5" fill="#A8A8A8"/>
<circle cx="450.0" cy="377.4" r="2.5" fill="#A8A8A8"/>
<circle cx="454.0" cy="379.4" r="2.5" fill="#A8A8A8"/>
<circle cx="455.0" cy="342.4" r="2.5" fill="#A8A8A8"/>
<circle cx="456.4" cy="354.4" r="2.5" fill="#A8A8A8"/>
<circle cx="469.4" cy="332.4" r="2.5" fill="#A8A8A8"/>
<path d="M377.10,341.93 L380.16,342.50 L383.22,343.05 L386.28,343.57 L389.34,344.06 L392.40,344.53 L395.46,344.95 L398.52,345.32 L401.58,345.63 L404.64,345.88 L407.70,346.05 L410.76,346.12 L413.82,346.09 L416.88,345.94 L419.94,345.68 L423.00,345.29 L426.06,344.79 L429.12,344.18 L432.18,343.48 L435.24,342.70 L438.30,341.84 L441.36,340.92 L444.42,339.96 L447.48,338.95 L450.54,337.91 L453.60,336.84 L456.66,335.74 L459.72,334.62 L462.78,333.49 L465.84,332.34 L468.90,331.18 L468.90,367.82 L465.84,367.21 L462.78,366.62 L459.72,366.04 L456.66,365.47 L453.60,364.93 L450.54,364.41 L447.48,363.92 L444.42,363.47 L441.36,363.06 L438.30,362.69 L435.24,362.39 L432.18,362.16 L429.12,362.01 L426.06,361.96 L423.00,362.01 L419.94,362.18 L416.88,362.46 L413.82,362.87 L410.76,363.39 L407.70,364.02 L404.64,364.74 L401.58,365.54 L398.52,366.41 L395.46,367.33 L392.40,368.31 L389.34,369.32 L386.28,370.37 L383.22,371.45 L380.16,372.55 L377.10,373.67Z" fill="#9D9B9F" fill-opacity="0.53"/>
<line x1="377.1" y1="357.8" x2="468.9" y2="349.5" stroke="#999999" stroke-width="1"/>
<circle cx="540.2" cy="260.5" r="2.5" fill="#981A0E"/>
<circle cx="522.4" cy="280.1" r="2.5" fill="#981A0E"/>
<circle cx="501.5" cy="306.3" r="2.5" fill="#981A0E"/>
<circle cx="508.0" cy="311.5" r="2.5" fill="#981A0E"/>
<circle cx="527.7" cy="314.1" r="2.5" fill="#981A0E"/>
<circle cx="536.3" cy="313.6" r="2.5" fill="#981A0E"/>
<circle cx="538.1" cy="312.3" r="2.5" fill="#981A0E"/>
<circle cx="549.9" cy="314.4" r="2.5" fill="#981A0E"/>
<circle cx="480.5" cy="320.7" r="2.5" fill="#981A0E"/>
<circle cx="513.8" cy="325.4" r="2.5" fill="#981A0E"/>
<circle cx="503.3" cy="331.2" r="2.5" fill="#981A0E"/>
<circle cx="520.1" cy="331.9" r="2.5" fill="#981A0E"/>
<circle cx="507.5" cy="335.9" r="2.5" fill="#981A0E"/>
<circle cx="510.1" cy="335.6" r="2.5" fill="#981A0E"/>
<circle cx="480.0" cy="336.4" r="2.5" fill="#981A0E"/>
<circle cx="484.5" cy="338.2" r="2.5" fill="#981A0E"/>
<circle cx="553.8" cy="328.0" r="2.5" fill="#981A0E"/>
<circle cx="554.6" cy="331.2" r="2.5" fill="#981A0E"/>
<circle cx="557.2" cy="333.2" r="2.5" fill="#981A0E"/>
<circle cx="542.8" cy="335.3" r="2.5" fill="#981A0E"/>
<circle cx="553.3" cy="341.1" r="2.5" fill="#981A0E"/>
<circle cx="537.4" cy="342.9" r="2.5" fill="#981A0E"/>
<circle cx="557.8" cy="356.5" r="2.5" fill="#981A0E"/>
<circle cx="512.0" cy="360.0" r="2.5" fill="#981A0E"/>
<circle cx="515.9" cy="362.0" r="2.5" fill="#981A0E"/>
<circle cx="519.0" cy="358.1" r="2.5" fill="#981A0E"/>
<circle cx="512.2" cy="367.8" r="2.5" fill="#981A0E"/>
<circle cx="530.0" cy="369.1" r="2.5" fill="#981A0E"/>
<circle cx="538.1" cy="368.6" r="2.5" fill="#981A0E"/>
<circle cx="542.0" cy="375.1" r="2.5" fill="#981A0E"/>
<path d="M480.70,310.93 L483.26,311.93 L485.83,312.92 L488.39,313.90 L490.95,314.86 L493.52,315.80 L496.08,316.72 L498.64,317.62 L501.21,318.48 L503.77,319.31 L506.33,320.10 L508.90,320.83 L511.46,321.50 L514.02,322.10 L516.59,322.62 L519.15,323.04 L521.71,323.35 L524.28,323.54 L526.84,323.61 L529.40,323.55 L531.97,323.37 L534.53,323.08 L537.09,322.68 L539.66,322.20 L542.22,321.63 L544.78,321.00 L547.35,320.32 L549.91,319.58 L552.47,318.81 L555.04,318.00 L557.60,317.17 L557.60,349.43 L555.04,348.53 L552.47,347.65 L549.91,346.80 L547.35,345.99 L544.78,345.23 L542.22,344.53 L539.66,343.89 L537.09,343.33 L534.53,342.86 L531.97,342.50 L529.40,342.24 L526.84,342.11 L524.28,342.11 L521.71,342.23 L519.15,342.46 L516.59,342.81 L514.02,343.25 L511.46,343.78 L508.90,344.38 L506.33,345.04 L503.77,345.75 L501.21,346.50 L498.64,347.29 L496.08,348.12 L493.52,348.96 L490.95,349.83 L488.39,350.72 L485.83,351.62 L483.26,352.54 L480.70,353.47Z" fill="#9D9B9F" fill-opacity="0.53"/>
<line x1="480.7" y1="332.2" x2="557.6" y2="333.3" stroke="#981A0E" stroke-width="1"/>
<circle cx="654.4" cy="265.2" r="2.5" fill="#0B4F9A"/>
<circle cx="592.4" cy="289.8" r="2.5" fill="#0B4F9A"/>
<circle cx="602.9" cy="290.6" r="2.5" fill="#0B4F9A"/>
<circle cx="584.0" cy="300.5" r="2.5" fill="#0B4F9A"/>
<circle cx="598.4" cy="301.0" r="2.5" fill="#0B4F9A"/>
<circle cx="598.4" cy="303.7" r="2.5" fill="#0B4F9A"/>
<circle cx="628.5" cy="295.0" r="2.5" fill="#0B4F9A"/>
<circle cx="661.2" cy="295.0" r="2.5" fill="#0B4F9A"/>
<circle cx="633.8" cy="308.9" r="2.5" fill="#0B4F9A"/>
<circle cx="614.6" cy="317.3" r="2.5" fill="#0B4F9A"/>
<circle cx="598.4" cy="319.4" r="2.5" fill="#0B4F9A"/>
<circle cx="602.9" cy="322.5" r="2.5" fill="#0B4F9A"/>
<circle cx="619.4" cy="324.6" r="2.5" fill="#0B4F9A"/>
<circle cx="598.4" cy="326.7" r="2.5" fill="#0B4F9A"/>
<circle cx="648.2" cy="325.9" r="2.5" fill="#0B4F9A"/>
<circle cx="645.5" cy="328.5" r="2.5" fill="#0B4F9A"/>
<circle cx="649.2" cy="328.0" r="2.5" fill="#0B4F9A"/>
<circle cx="659.9" cy="330.4" r="2.5" fill="#0B4F9A"/>
<circle cx="612.0" cy="335.9" r="2.5" fill="#0B4F9A"/>
<circle cx="631.7" cy="335.3" r="2.5" fill="#0B4F9A"/>
<circle cx="605.0" cy="340.3" r="2.5" fill="#0B4F9A"/>
<circle cx="607.3" cy="341.6" r="2.5" fill="#0B4F9A"/>
<circle cx="628.3" cy="341.1" r="2.5" fill="#0B4F9A"/>
<circle cx="656.0" cy="339.0" r="2.5" fill="#0B4F9A"/>
<circle cx="588.5" cy="342.1" r="2.5" fill="#0B4F9A"/>
<circle cx="584.5" cy="343.7" r="2.5" fill="#0B4F9A"/>
<circle cx="584.0" cy="348.2" r="2.5" fill="#0B4F9A"/>
<circle cx="598.4" cy="347.6" r="2.5" fill="#0B4F9A"/>
<circle cx="619.4" cy="347.4" r="2.5" fill="#0B4F9A"/>
<circle cx="634.3" cy="348.2" r="2.5" fill="#0B4F9A"/>
<circle cx="638.2" cy="349.5" r="2.5" fill="#0B4F9A"/>
<circle cx="643.4" cy="347.6" r="2.5" fill="#0B4F9A"/>
<circle cx="666.5" cy="347.4" r="2.5" fill="#0B4F9A"/>
<circle cx="661.8" cy="350.8" r="2.5" fill="#0B4F9A"/>
<circle cx="584.0" cy="353.9" r="2.5" fill="#0B4F9A"/>
<circle cx="612.0" cy="357.3" r="2.5" fill="#0B4F9A"/>
<circle cx="598.4" cy="359.9" r="2.5" fill="#0B4F9A"/>
<circle cx="601.6" cy="363.1" r="2.5" fill="#0B4F9A"/>
<circle cx="600.3" cy="365.7" r="2.5" fill="#0B4F9A"/>
<circle cx="646.6" cy="360.7" r="2.5" fill="#0B4F9A"/>
<circle cx="630.4" cy="366.2" r="2.5" fill="#0B4F9A"/>
<circle cx="640.8" cy="367.3" r="2.5" fill="#0B4F9A"/>
<circle cx="639.0" cy="369.1" r="2.5" fill="#0B4F9A"/>
<circle cx="607.3" cy="370.9" r="2.5" fill="#0B4F9A"/>
<circle cx="623.8" cy="377.0" r="2.5" fill="#0B4F9A"/>
<path d="M584.20,321.82 L586.92,322.48 L589.64,323.11 L592.36,323.72 L595.08,324.31 L597.80,324.86 L600.52,325.37 L603.24,325.84 L605.96,326.26 L608.68,326.62 L611.40,326.92 L614.12,327.14 L616.84,327.29 L619.56,327.36 L622.28,327.34 L625.00,327.23 L627.72,327.05 L630.44,326.79 L633.16,326.47 L635.88,326.08 L638.60,325.63 L641.32,325.14 L644.04,324.61 L646.76,324.05 L649.48,323.45 L652.20,322.83 L654.92,322.18 L657.64,321.52 L660.36,320.84 L663.08,320.15 L665.80,319.44 L665.80,351.36 L663.08,350.65 L660.36,349.96 L657.64,349.28 L654.92,348.62 L652.20,347.97 L649.48,347.35 L646.76,346.75 L644.04,346.19 L641.32,345.66 L638.60,345.17 L635.88,344.72 L633.16,344.33 L630.44,344.01 L627.72,343.75 L625.00,343.57 L622.28,343.46 L619.56,343.44 L616.84,343.51 L614.12,343.66 L611.40,343.88 L608.68,344.18 L605.96,344.54 L603.24,344.96 L600.52,345.43 L597.80,345.94 L595.08,346.49 L592.36,347.08 L589.64,347.69 L586.92,348.32 L584.20,348.98Z" fill="#9D9B9F" fill-opacity="0.53"/>
<line x1="584.2" y1="335.4" x2="665.8" y2="335.4" stroke="#0B4F9A" stroke-width="1"/>
</svg></body></html>
